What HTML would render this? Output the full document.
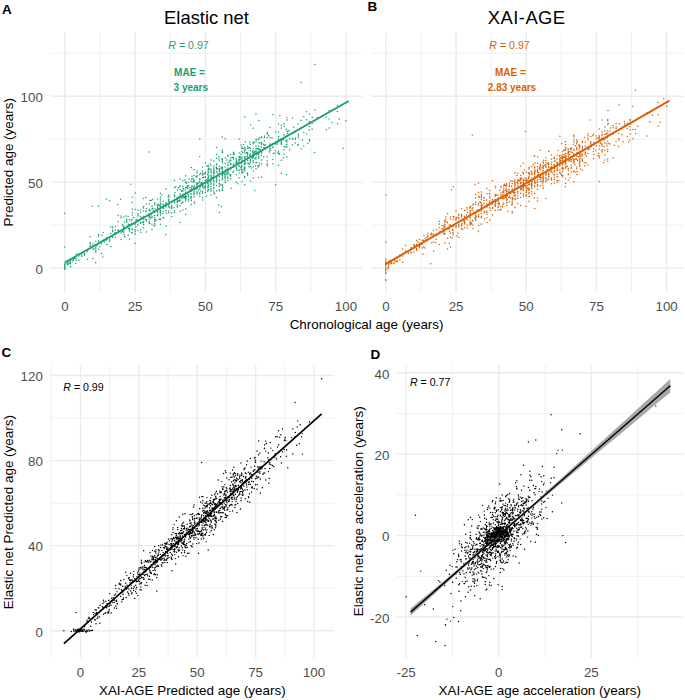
<!DOCTYPE html><html><head><meta charset="utf-8"><style>html,body{margin:0;padding:0;background:#fff;overflow:hidden}svg{display:block}text{font-family:"Liberation Sans", sans-serif}</style></head><body>
<svg width="685" height="700" viewBox="0 0 685 700">
<path d="M99.98 32.2V292.6M170.25 32.2V292.6M240.53 32.2V292.6M310.8 32.2V292.6M50.4 225.07H362.3M50.4 139.15H362.3M50.4 53.23H362.3" stroke="#F0F0F0" stroke-width="1.0" fill="none"/>
<path d="M64.84 32.2V292.6M135.12 32.2V292.6M205.39 32.2V292.6M275.66 32.2V292.6M345.94 32.2V292.6M50.4 268.03H362.3M50.4 182.11H362.3M50.4 96.19H362.3" stroke="#EBEBEB" stroke-width="1.4" fill="none"/>
<path d="M420.93 32.2V292.6M491.13 32.2V292.6M561.33 32.2V292.6M631.53 32.2V292.6M371.1 225.07H683.7M371.1 139.15H683.7M371.1 53.23H683.7" stroke="#F0F0F0" stroke-width="1.0" fill="none"/>
<path d="M385.83 32.2V292.6M456.03 32.2V292.6M526.23 32.2V292.6M596.43 32.2V292.6M666.63 32.2V292.6M371.1 268.03H683.7M371.1 182.11H683.7M371.1 96.19H683.7" stroke="#EBEBEB" stroke-width="1.4" fill="none"/>
<path d="M51.28 365.3V657.7M109.66 365.3V657.7M168.03 365.3V657.7M226.41 365.3V657.7M284.78 365.3V657.7M50.4 588.21H334.3M50.4 503.13H334.3M50.4 418.05H334.3" stroke="#F0F0F0" stroke-width="1.0" fill="none"/>
<path d="M80.47 365.3V657.7M138.84 365.3V657.7M197.22 365.3V657.7M255.59 365.3V657.7M313.97 365.3V657.7M50.4 630.75H334.3M50.4 545.67H334.3M50.4 460.59H334.3M50.4 375.51H334.3" stroke="#EBEBEB" stroke-width="1.4" fill="none"/>
<path d="M452.43 365.3V657.7M545.03 365.3V657.7M637.63 365.3V657.7M396.4 576.32H684M396.4 494.88H684M396.4 413.44H684" stroke="#F0F0F0" stroke-width="1.0" fill="none"/>
<path d="M406.13 365.3V657.7M498.73 365.3V657.7M591.33 365.3V657.7M396.4 617.04H684M396.4 535.6H684M396.4 454.16H684M396.4 372.72H684" stroke="#EBEBEB" stroke-width="1.4" fill="none"/>
<path d="M64.8 265.2h0M64.8 267.3h0M64.8 269.3h0M64.8 264.2h0M64.8 263.7h0M64.8 264.4h0M64.8 269.1h0M64.8 265.4h0M64.8 268.0h0M64.8 266.9h0M64.8 265.6h0M64.8 264.3h0M64.8 267.7h0M64.8 267.2h0M64.8 268.6h0M64.8 266.7h0M64.8 268.2h0M64.8 267.5h0M64.8 265.5h0M64.8 266.7h0M64.8 266.5h0M64.8 266.3h0M81.7 256.2h0M78.9 253.7h0M76.1 258.6h0M81.7 252.7h0M73.3 260.0h0M87.3 259.2h0M90.1 244.0h0M69.9 261.3h0M78.9 253.9h0M73.8 259.0h0M68.7 262.5h0M90.1 236.7h0M78.9 253.9h0M70.4 263.8h0M84.5 253.6h0M73.3 259.5h0M90.1 246.3h0M72.3 261.1h0M67.4 264.4h0M70.5 260.2h0M75.7 263.6h0M78.9 256.0h0M90.5 245.6h0M84.5 254.7h0M76.1 260.2h0M67.0 263.1h0M70.5 266.5h0M93.0 248.9h0M78.9 260.2h0M84.5 255.3h0M68.0 264.5h0M67.4 260.7h0M90.1 242.6h0M81.7 254.9h0M74.7 258.3h0M76.1 254.1h0M68.9 263.3h0M70.5 262.7h0M67.2 263.7h0M87.3 251.6h0M106.1 240.1h0M95.8 247.5h0M112.6 231.6h0M98.6 235.9h0M95.8 241.4h0M109.8 237.7h0M118.2 215.3h0M93.0 243.7h0M115.6 226.4h0M98.6 249.2h0M95.6 262.7h0M93.0 258.4h0M101.4 253.5h0M112.6 227.0h0M107.0 237.6h0M118.2 230.6h0M99.1 242.7h0M101.4 241.6h0M101.4 242.3h0M121.1 215.9h0M118.2 221.7h0M102.5 241.2h0M105.2 239.3h0M101.4 243.9h0M112.6 236.0h0M93.0 245.7h0M95.8 245.1h0M104.2 242.1h0M99.8 246.7h0M115.4 237.5h0M112.6 237.2h0M107.0 244.4h0M112.6 229.9h0M112.6 227.5h0M114.9 232.4h0M119.0 231.2h0M95.8 248.9h0M110.6 227.0h0M95.8 247.3h0M104.2 240.4h0M115.4 234.4h0M118.1 232.4h0M115.4 230.0h0M93.0 246.5h0M103.1 232.5h0M98.6 234.6h0M121.1 232.8h0M97.0 245.4h0M98.6 243.6h0M103.0 240.3h0M95.8 244.5h0M118.2 229.9h0M109.8 241.3h0M98.6 240.7h0M107.0 239.7h0M95.8 250.8h0M109.8 241.1h0M98.6 242.6h0M94.0 249.1h0M95.8 252.3h0M109.8 239.7h0M110.9 233.5h0M102.1 235.2h0M111.0 246.5h0M102.8 256.9h0M124.7 236.3h0M129.5 229.7h0M132.2 229.8h0M146.4 221.1h0M124.3 222.0h0M123.9 225.9h0M137.9 224.2h0M149.2 223.6h0M146.4 203.9h0M140.7 209.9h0M122.9 229.5h0M143.7 224.8h0M140.7 223.2h0M123.9 227.0h0M135.1 222.4h0M122.4 224.7h0M143.5 227.7h0M140.7 222.5h0M143.5 208.1h0M142.4 222.6h0M128.6 228.4h0M143.5 218.1h0M128.1 216.6h0M123.9 228.1h0M132.0 219.5h0M135.1 223.1h0M129.5 219.5h0M137.9 213.6h0M137.9 210.0h0M126.7 222.2h0M137.9 230.4h0M131.1 221.0h0M141.7 217.7h0M129.5 228.5h0M143.5 222.3h0M132.3 212.6h0M137.9 216.0h0M140.7 232.3h0M135.1 209.5h0M128.3 224.2h0M149.2 221.8h0M123.9 234.6h0M129.5 229.5h0M135.1 229.5h0M121.1 217.7h0M126.7 219.2h0M143.5 216.3h0M143.5 211.0h0M137.9 220.9h0M146.4 208.7h0M143.5 198.5h0M129.5 238.9h0M137.9 221.4h0M129.5 231.0h0M140.7 229.7h0M131.9 223.6h0M126.7 225.9h0M145.7 211.6h0M140.7 219.0h0M140.7 219.1h0M137.9 213.8h0M143.5 206.5h0M132.3 232.9h0M137.0 219.5h0M123.9 217.0h0M137.9 224.5h0M143.5 218.9h0M140.7 212.3h0M143.5 224.3h0M135.0 222.5h0M145.8 197.5h0M124.1 227.7h0M146.4 231.9h0M131.5 232.6h0M123.6 232.3h0M137.9 224.9h0M135.1 233.9h0M132.3 215.1h0M146.4 219.8h0M124.9 236.7h0M137.9 215.3h0M132.3 229.1h0M135.9 226.7h0M135.1 224.5h0M123.9 228.0h0M135.1 231.7h0M146.4 211.3h0M125.9 216.0h0M121.1 239.6h0M123.0 229.3h0M135.1 231.3h0M148.5 215.3h0M122.3 231.4h0M149.2 216.1h0M136.1 220.2h0M123.9 231.0h0M132.3 223.9h0M126.7 220.7h0M140.7 223.0h0M135.1 243.2h0M129.5 224.7h0M128.2 235.2h0M145.4 219.5h0M143.5 221.6h0M133.3 217.6h0M132.3 208.9h0M140.7 216.5h0M149.2 217.3h0M123.3 226.0h0M126.7 221.2h0M160.4 206.8h0M163.4 204.7h0M152.0 216.4h0M150.7 218.3h0M154.8 204.1h0M160.4 207.8h0M168.8 211.0h0M166.3 213.0h0M149.2 223.1h0M149.2 221.8h0M163.2 217.4h0M174.5 199.7h0M174.5 194.9h0M160.4 215.1h0M174.1 200.7h0M174.5 199.8h0M160.6 210.5h0M168.8 206.7h0M159.4 205.6h0M153.5 210.3h0M166.0 203.1h0M152.0 224.2h0M168.8 206.6h0M171.7 205.6h0M174.5 196.6h0M161.8 194.7h0M152.5 199.6h0M174.5 202.7h0M174.5 180.4h0M177.3 198.8h0M165.9 204.3h0M168.8 200.8h0M160.4 224.2h0M154.8 225.2h0M157.6 207.5h0M169.4 207.8h0M157.6 214.7h0M168.8 200.0h0M163.3 201.2h0M160.4 199.1h0M177.3 197.5h0M154.8 204.9h0M162.9 213.6h0M154.8 203.0h0M174.5 210.9h0M163.2 211.6h0M158.5 204.4h0M153.9 225.9h0M166.0 226.1h0M160.4 203.3h0M152.0 206.0h0M150.1 210.4h0M160.2 210.1h0M166.0 204.6h0M163.8 207.9h0M174.5 196.4h0M174.5 196.5h0M174.5 212.6h0M171.6 213.1h0M163.2 208.2h0M163.2 204.4h0M160.4 193.2h0M160.4 212.0h0M149.2 215.0h0M171.7 208.8h0M154.8 217.5h0M149.2 210.4h0M163.2 204.2h0M168.8 196.5h0M160.4 211.2h0M160.4 205.9h0M168.8 200.3h0M154.8 221.1h0M149.2 213.6h0M165.8 234.6h0M163.2 206.5h0M174.5 202.0h0M160.4 210.6h0M171.7 206.6h0M149.7 223.4h0M149.9 200.5h0M166.0 205.9h0M154.8 221.6h0M151.1 215.1h0M152.0 217.2h0M160.4 201.1h0M157.6 204.6h0M166.0 210.4h0M174.1 207.7h0M160.4 199.0h0M154.8 219.6h0M166.0 206.8h0M149.2 223.4h0M160.4 206.8h0M157.6 199.1h0M160.4 219.5h0M152.0 206.2h0M166.0 189.1h0M166.0 204.9h0M168.8 195.0h0M177.3 201.0h0M159.1 219.0h0M168.8 206.0h0M160.4 219.0h0M155.2 208.7h0M174.5 187.6h0M168.8 201.4h0M175.7 186.8h0M171.7 207.3h0M175.0 192.7h0M152.8 208.2h0M149.2 219.7h0M154.8 219.3h0M160.8 204.3h0M168.8 197.1h0M160.4 218.9h0M163.6 218.1h0M171.7 206.4h0M151.2 200.6h0M168.8 212.7h0M149.2 204.0h0M154.8 212.3h0M168.8 199.2h0M168.4 196.7h0M160.4 218.9h0M157.6 205.4h0M171.7 207.7h0M157.6 215.2h0M149.2 216.8h0M156.1 219.9h0M149.2 209.5h0M171.7 216.6h0M152.0 209.0h0M177.3 199.9h0M154.8 215.4h0M157.6 206.1h0M166.0 202.6h0M157.8 212.7h0M160.4 197.1h0M152.0 229.6h0M160.1 211.3h0M149.9 217.3h0M154.8 223.7h0M174.7 196.5h0M157.6 215.8h0M157.6 208.9h0M168.8 204.5h0M174.5 180.4h0M157.6 211.6h0M160.4 213.3h0M197.0 175.8h0M199.5 179.0h0M194.1 180.4h0M182.9 188.4h0M182.9 194.8h0M199.8 185.6h0M197.0 183.7h0M202.6 183.3h0M199.8 186.9h0M189.1 178.9h0M180.1 199.1h0M202.6 186.7h0M197.0 188.5h0M194.1 188.9h0M197.0 194.1h0M188.5 200.9h0M185.7 192.6h0M194.1 201.8h0M190.9 191.6h0M197.0 170.9h0M203.6 177.2h0M199.8 193.0h0M188.5 196.8h0M187.8 188.4h0M202.6 184.5h0M188.5 185.8h0M199.8 174.8h0M179.9 186.0h0M191.3 196.5h0M191.8 186.2h0M200.0 178.9h0M202.6 173.0h0M181.6 198.0h0M194.6 203.5h0M194.1 187.5h0M181.5 203.5h0M200.7 191.1h0M192.8 178.4h0M205.4 182.8h0M182.9 202.1h0M192.0 176.3h0M185.7 188.1h0M194.1 193.6h0M194.1 186.1h0M191.3 204.4h0M186.4 183.2h0M191.3 179.1h0M188.5 191.9h0M202.3 171.3h0M191.3 197.7h0M191.3 188.1h0M185.7 192.2h0M185.7 187.7h0M204.1 187.2h0M185.7 199.6h0M202.6 200.0h0M194.1 194.4h0M205.4 192.6h0M181.9 190.4h0M202.6 185.1h0M199.8 193.7h0M193.2 189.0h0M197.0 191.8h0M197.0 183.2h0M188.5 191.6h0M194.1 191.3h0M182.9 186.2h0M177.3 199.2h0M197.0 182.5h0M191.3 200.6h0M202.6 197.6h0M184.7 196.8h0M200.3 186.8h0M205.0 180.5h0M202.6 183.6h0M205.4 180.4h0M182.9 197.7h0M181.9 203.0h0M183.7 196.3h0M188.5 195.0h0M180.1 205.8h0M181.5 191.3h0M177.3 202.4h0M202.6 175.3h0M187.4 187.0h0M194.1 186.1h0M190.1 198.1h0M198.2 183.4h0M199.8 182.6h0M188.0 194.2h0M191.3 193.9h0M180.1 222.6h0M185.3 189.9h0M183.5 189.1h0M186.0 198.6h0M185.7 175.8h0M193.4 187.7h0M185.7 198.3h0M186.5 196.6h0M200.6 173.4h0M177.3 201.5h0M177.4 190.0h0M178.9 196.7h0M201.6 182.8h0M194.1 175.5h0M197.0 176.9h0M204.2 188.1h0M182.9 197.7h0M202.6 193.1h0M182.9 194.2h0M191.3 181.3h0M196.4 187.0h0M199.8 182.5h0M184.3 197.5h0M191.3 167.6h0M178.6 200.9h0M185.7 214.2h0M205.4 173.1h0M202.6 177.8h0M193.6 179.8h0M199.8 186.5h0M202.6 184.9h0M185.7 195.7h0M205.4 186.0h0M188.5 182.3h0M182.9 191.1h0M192.2 186.2h0M194.1 192.8h0M197.0 185.9h0M196.1 189.2h0M178.4 187.7h0M194.1 180.7h0M202.6 191.8h0M196.1 176.5h0M205.4 187.5h0M191.3 188.9h0M199.8 196.2h0M180.1 186.7h0M202.6 191.4h0M189.5 187.7h0M202.6 185.8h0M186.3 187.5h0M194.1 185.6h0M201.1 183.4h0M197.0 172.7h0M194.1 194.1h0M205.4 183.0h0M180.1 200.6h0M180.1 211.1h0M194.1 193.7h0M204.1 173.8h0M197.0 187.7h0M185.7 198.8h0M180.1 200.9h0M189.9 190.1h0M190.8 193.7h0M191.3 200.0h0M194.1 196.9h0M185.7 197.6h0M202.0 182.2h0M185.4 196.0h0M180.1 189.4h0M185.7 200.9h0M202.6 174.5h0M182.9 194.6h0M185.7 208.9h0M202.6 174.4h0M187.1 185.7h0M199.8 189.1h0M177.3 206.9h0M202.6 167.1h0M182.9 180.5h0M182.9 210.0h0M197.0 182.7h0M205.1 182.4h0M205.4 176.8h0M198.4 190.1h0M203.0 186.0h0M205.4 189.9h0M194.1 182.2h0M180.1 179.1h0M199.8 156.5h0M188.4 185.7h0M185.7 182.2h0M191.3 181.6h0M177.3 205.0h0M177.3 201.2h0M184.7 180.0h0M194.1 169.7h0M197.0 184.4h0M205.4 172.2h0M200.3 185.2h0M202.6 186.5h0M194.1 186.1h0M197.0 192.4h0M194.1 189.0h0M180.1 194.0h0M180.1 195.0h0M199.8 179.7h0M183.0 188.6h0M199.5 181.7h0M191.3 189.3h0M177.3 206.5h0M193.1 181.8h0M188.5 199.2h0M179.4 200.4h0M184.6 197.7h0M185.9 181.8h0M185.7 188.1h0M197.0 187.5h0M210.1 164.0h0M216.6 176.5h0M222.4 161.2h0M230.7 163.2h0M208.2 177.7h0M208.2 182.0h0M210.8 179.6h0M211.0 169.3h0M211.0 165.4h0M207.5 183.1h0M211.0 176.3h0M211.0 178.0h0M219.4 186.6h0M223.6 173.6h0M216.6 175.8h0M211.0 169.3h0M208.2 178.5h0M213.8 172.2h0M210.2 182.0h0M219.4 166.2h0M230.7 176.0h0M225.1 177.7h0M211.0 169.7h0M205.4 177.5h0M208.2 178.7h0M216.6 172.1h0M216.6 164.5h0M225.1 163.6h0M207.7 187.3h0M213.8 193.1h0M225.1 178.7h0M222.3 179.8h0M219.4 176.8h0M230.7 167.6h0M208.2 187.7h0M211.0 175.0h0M221.3 168.3h0M222.3 174.3h0M232.9 172.2h0M233.5 153.9h0M222.3 184.5h0M226.7 160.0h0M225.1 176.6h0M209.1 169.1h0M222.3 168.1h0M213.8 181.1h0M216.6 190.8h0M211.0 175.4h0M205.4 192.6h0M230.7 164.3h0M225.1 138.7h0M227.9 178.3h0M213.5 180.0h0M216.6 180.8h0M211.0 189.9h0M222.3 167.6h0M227.9 162.6h0M227.9 180.5h0M230.7 175.8h0M213.8 172.9h0M225.1 177.2h0M208.2 177.4h0M219.4 160.9h0M208.2 185.6h0M219.4 173.9h0M219.4 212.5h0M213.8 182.0h0M213.8 171.9h0M225.4 171.6h0M219.4 160.9h0M216.6 176.6h0M208.2 165.4h0M213.8 160.9h0M227.9 165.0h0M233.5 163.8h0M216.6 167.2h0M230.7 164.8h0M230.7 179.0h0M211.0 160.1h0M213.8 183.9h0M225.1 175.0h0M214.0 173.7h0M232.2 157.3h0M216.6 158.2h0M225.1 174.0h0M225.3 182.6h0M211.0 188.4h0M229.7 174.4h0M214.6 193.7h0M208.2 177.2h0M206.8 166.1h0M219.4 190.7h0M222.3 137.0h0M213.8 167.9h0M227.9 155.3h0M213.8 169.6h0M227.9 170.3h0M206.3 196.2h0M213.8 188.6h0M211.0 181.1h0M216.6 168.9h0M216.6 169.3h0M216.6 167.9h0M229.3 161.6h0M222.3 163.0h0M222.4 172.1h0M216.6 171.6h0M228.1 171.5h0M219.5 169.8h0M225.1 169.9h0M231.1 188.2h0M222.3 171.1h0M217.6 173.7h0M213.8 185.2h0M230.7 158.1h0M226.9 174.8h0M227.9 156.2h0M211.0 175.0h0M217.7 168.7h0M230.7 175.1h0M211.0 171.1h0M227.9 165.3h0M219.4 168.7h0M211.0 191.1h0M216.6 168.1h0M207.5 180.4h0M225.1 176.6h0M225.1 158.1h0M205.4 173.8h0M213.8 180.4h0M227.9 164.6h0M211.0 175.9h0M219.4 183.9h0M228.0 172.9h0M222.3 167.5h0M208.2 177.6h0M230.9 160.2h0M226.4 172.8h0M221.3 206.4h0M213.8 177.4h0M221.8 159.1h0M216.6 178.5h0M208.7 176.8h0M208.2 177.1h0M206.7 179.5h0M211.0 172.1h0M212.3 177.6h0M222.3 167.4h0M222.3 158.9h0M222.3 170.7h0M227.9 165.1h0M208.2 169.3h0M216.6 164.0h0M207.6 191.3h0M216.6 185.6h0M208.2 179.1h0M208.2 185.1h0M208.2 172.7h0M216.3 167.5h0M226.8 169.2h0M213.8 166.0h0M225.1 166.9h0M211.0 184.2h0M213.5 172.9h0M218.6 205.0h0M208.2 166.5h0M216.6 177.4h0M222.3 175.2h0M227.9 173.8h0M208.2 190.2h0M227.9 176.9h0M222.3 151.3h0M222.3 150.1h0M208.2 183.9h0M230.1 160.2h0M213.8 187.6h0M219.4 183.3h0M219.4 180.3h0M230.7 169.1h0M222.3 178.1h0M233.5 153.1h0M211.0 172.4h0M225.1 174.2h0M222.3 159.7h0M219.4 190.0h0M222.3 167.3h0M222.3 189.3h0M213.8 185.0h0M222.3 168.0h0M208.2 185.0h0M218.9 158.8h0M219.4 172.1h0M211.4 177.8h0M222.3 176.0h0M225.1 177.5h0M208.9 168.3h0M213.8 177.4h0M208.2 189.5h0M222.3 160.7h0M207.7 174.5h0M211.0 183.4h0M216.6 179.4h0M219.4 170.7h0M205.4 162.9h0M230.7 154.6h0M211.0 175.2h0M222.3 152.4h0M211.0 186.6h0M222.1 168.0h0M216.6 147.5h0M214.3 172.0h0M218.7 156.4h0M222.3 168.9h0M222.2 190.7h0M224.7 174.0h0M213.8 190.9h0M208.2 172.0h0M213.8 172.6h0M213.8 176.3h0M222.3 179.4h0M216.6 154.5h0M213.8 170.5h0M208.2 170.7h0M222.3 185.8h0M208.2 186.8h0M219.4 180.6h0M225.1 171.4h0M222.9 187.5h0M211.0 195.0h0M216.6 171.5h0M230.7 168.9h0M208.2 175.2h0M225.1 175.2h0M216.6 182.0h0M222.3 171.9h0M216.5 164.7h0M208.2 184.1h0M221.2 167.6h0M205.4 183.4h0M230.7 164.0h0M227.9 168.1h0M216.6 167.5h0M220.5 185.1h0M219.4 173.9h0M233.5 157.8h0M205.4 185.3h0M213.8 175.7h0M216.6 197.6h0M227.9 172.3h0M225.1 181.1h0M244.7 150.8h0M233.5 153.7h0M250.4 181.1h0M244.7 177.4h0M236.8 168.7h0M250.4 154.0h0M244.7 148.3h0M241.9 157.4h0M241.1 154.2h0M247.6 157.2h0M239.1 139.1h0M244.7 168.3h0M260.0 137.5h0M247.6 152.4h0M241.9 158.9h0M247.6 152.4h0M259.3 165.3h0M258.8 148.9h0M253.2 162.4h0M258.8 146.1h0M254.8 158.6h0M253.2 153.9h0M244.7 168.9h0M236.3 159.1h0M254.1 152.7h0M250.4 144.2h0M261.6 137.1h0M241.9 171.8h0M258.1 165.7h0M239.1 160.4h0M260.1 149.5h0M261.5 155.5h0M233.5 166.4h0M241.9 147.5h0M261.6 151.5h0M261.6 142.6h0M252.4 157.3h0M236.3 162.9h0M233.7 166.9h0M239.1 170.5h0M258.8 152.0h0M256.0 159.1h0M245.5 163.6h0M256.0 150.1h0M258.8 120.4h0M241.9 172.9h0M258.1 167.1h0M241.1 167.6h0M242.7 152.8h0M233.5 157.6h0M238.0 183.7h0M250.4 162.5h0M233.5 152.3h0M248.8 166.7h0M239.1 162.2h0M253.2 142.2h0M236.3 167.9h0M239.1 162.6h0M241.1 169.1h0M249.9 154.2h0M256.2 154.6h0M254.7 151.8h0M253.2 162.0h0M252.7 155.2h0M248.8 163.5h0M241.9 148.6h0M239.1 172.9h0M258.8 138.7h0M244.7 153.0h0M251.8 158.0h0M236.3 167.1h0M243.6 169.3h0M236.3 174.8h0M244.7 156.7h0M253.2 143.7h0M243.1 148.8h0M253.2 150.7h0M236.3 182.0h0M244.7 176.5h0M244.7 184.7h0M247.8 163.0h0M239.1 157.2h0M253.1 166.7h0M258.8 146.3h0M256.0 152.9h0M234.4 154.2h0M247.2 172.9h0M243.2 172.3h0M250.4 159.6h0M236.3 164.1h0M253.2 148.3h0M245.2 149.7h0M258.8 158.2h0M233.5 167.0h0M244.7 151.2h0M247.6 158.4h0M256.9 154.4h0M256.0 148.5h0M239.1 163.5h0M241.9 169.7h0M254.2 142.5h0M245.3 141.7h0M241.9 157.4h0M258.8 151.8h0M256.0 157.2h0M244.7 169.0h0M248.9 147.7h0M258.8 153.8h0M239.1 166.4h0M259.1 163.1h0M258.8 156.7h0M253.2 160.5h0M253.2 153.8h0M253.2 154.6h0M247.6 146.5h0M250.4 160.9h0M239.0 165.8h0M250.4 150.7h0M253.2 178.1h0M247.1 155.9h0M253.2 171.0h0M246.4 152.8h0M256.0 162.9h0M253.2 156.6h0M236.3 164.4h0M256.0 153.9h0M241.9 170.8h0M236.3 163.4h0M236.9 170.6h0M241.9 163.6h0M247.6 148.6h0M241.9 160.5h0M239.1 162.0h0M256.0 168.7h0M244.7 147.2h0M258.8 157.7h0M239.1 177.8h0M252.9 157.9h0M243.5 144.6h0M257.4 148.4h0M250.4 160.2h0M252.6 151.6h0M236.1 162.4h0M256.0 151.4h0M244.7 177.4h0M253.2 157.6h0M256.0 141.5h0M236.9 161.3h0M233.5 165.5h0M254.8 190.6h0M261.6 144.6h0M258.8 148.4h0M244.7 167.1h0M256.0 151.8h0M233.5 171.3h0M236.3 164.5h0M250.4 148.1h0M247.6 160.2h0M256.7 139.4h0M240.1 156.6h0M247.6 174.0h0M261.3 146.9h0M241.9 166.7h0M244.7 163.6h0M250.6 124.9h0M261.6 177.0h0M238.6 159.9h0M252.9 152.5h0M244.7 161.2h0M244.8 170.8h0M241.9 147.1h0M247.6 154.4h0M249.7 142.0h0M244.7 167.6h0M247.6 152.5h0M251.4 168.1h0M258.8 139.8h0M249.3 147.6h0M244.3 164.4h0M261.6 163.7h0M239.1 156.5h0M233.5 158.9h0M258.8 149.6h0M241.0 144.9h0M239.1 153.0h0M244.3 164.6h0M241.9 151.2h0M244.7 162.1h0M258.8 143.1h0M241.7 165.8h0M237.2 162.8h0M239.1 166.3h0M258.8 154.9h0M245.6 157.0h0M244.7 158.6h0M256.0 162.8h0M259.8 142.8h0M247.6 175.3h0M256.4 162.5h0M240.9 167.1h0M244.7 116.9h0M249.7 155.9h0M239.1 169.9h0M241.9 156.9h0M239.1 159.5h0M240.9 163.0h0M256.0 139.6h0M256.0 113.7h0M236.3 164.3h0M241.9 181.7h0M253.8 155.6h0M258.8 177.5h0M249.2 164.6h0M253.2 128.3h0M240.2 158.2h0M255.5 165.7h0M256.0 146.3h0M244.9 148.3h0M240.1 159.3h0M233.5 164.6h0M250.4 156.1h0M250.4 166.5h0M233.5 164.3h0M247.6 153.5h0M259.9 151.7h0M233.5 153.8h0M236.3 161.1h0M236.3 158.5h0M244.7 156.7h0M244.3 167.5h0M286.1 129.2h0M263.5 144.2h0M267.2 163.8h0M288.0 131.8h0M261.6 143.3h0M270.0 148.3h0M272.9 114.6h0M261.6 160.1h0M270.0 150.4h0M278.5 132.0h0M278.5 141.3h0M278.5 140.1h0M281.3 140.7h0M278.9 153.3h0M261.6 151.1h0M281.3 142.9h0M278.0 152.8h0M267.2 165.7h0M272.9 143.6h0M267.2 133.0h0M286.9 136.0h0M269.4 152.1h0M267.2 134.6h0M284.1 126.2h0M284.1 134.8h0M286.9 120.0h0M280.7 139.3h0M272.9 147.4h0M275.0 152.9h0M277.2 143.9h0M278.5 136.5h0M286.9 140.1h0M270.0 137.6h0M283.2 139.7h0M261.6 153.1h0M267.2 157.0h0M286.9 142.1h0M268.7 135.7h0M276.0 143.9h0M286.9 117.8h0M281.3 173.2h0M275.3 150.7h0M281.3 125.2h0M289.1 130.6h0M286.9 157.0h0M267.2 164.7h0M264.4 145.3h0M270.0 150.1h0M264.4 137.2h0M283.1 138.8h0M284.1 154.4h0M264.4 147.7h0M263.7 157.0h0M270.0 127.2h0M281.3 128.1h0M283.3 157.8h0M275.7 132.0h0M278.5 165.2h0M287.4 133.4h0M286.9 146.9h0M264.4 137.5h0M281.3 140.2h0M284.1 135.1h0M286.9 144.2h0M273.4 153.6h0M267.2 132.4h0M275.7 132.1h0M272.0 137.9h0M272.7 147.0h0M284.1 146.8h0M279.9 115.5h0M281.3 142.6h0M281.3 141.9h0M265.6 145.1h0M264.4 135.9h0M272.9 163.7h0M285.5 146.7h0M278.5 123.9h0M284.1 149.7h0M278.5 136.5h0M284.1 123.7h0M289.6 149.8h0M281.7 140.4h0M286.9 131.1h0M289.7 138.8h0M281.3 143.6h0M284.1 138.1h0M263.8 147.4h0M261.6 152.6h0M286.9 141.7h0M267.2 161.0h0M270.2 143.9h0M265.4 148.6h0M279.4 154.3h0M261.6 143.4h0M284.1 124.0h0M270.0 149.6h0M281.3 140.0h0M287.2 135.5h0M281.3 160.3h0M272.9 159.4h0M278.5 138.9h0M285.7 140.5h0M281.3 144.3h0M270.0 145.4h0M261.6 137.5h0M286.3 174.4h0M278.5 153.4h0M264.4 137.4h0M277.1 142.6h0M278.5 151.2h0M270.0 144.5h0M286.5 144.7h0M267.2 137.8h0M264.4 141.0h0M298.4 137.5h0M298.2 135.8h0M314.6 152.6h0M309.4 141.0h0M292.5 138.4h0M301.0 120.6h0M292.6 139.2h0M309.4 114.1h0M315.0 109.9h0M292.5 117.9h0M303.8 116.7h0M295.3 143.1h0M298.2 123.9h0M309.4 139.5h0M317.2 117.8h0M298.2 144.6h0M303.8 145.9h0M298.4 134.1h0M292.5 144.8h0M306.6 119.7h0M295.3 131.8h0M309.1 130.0h0M309.4 126.6h0M293.7 127.3h0M306.6 111.8h0M295.3 139.2h0M312.2 117.2h0M297.8 145.6h0M309.1 123.0h0M307.9 143.4h0M306.6 134.0h0M295.3 138.0h0M312.2 123.3h0M301.0 148.7h0M312.2 129.2h0M303.8 132.6h0M302.3 140.0h0M309.4 121.4h0M326.3 117.1h0M339.3 118.9h0M329.1 119.1h0M337.5 105.8h0M337.4 111.5h0M343.1 148.3h0M329.3 128.1h0M326.3 129.7h0M345.9 120.7h0M331.9 122.5h0M329.1 110.5h0M337.5 123.7h0M315.0 64.4h0M301.0 82.4h0M64.8 213.2h0M64.8 247.1h0M149.2 152.0h0M92.4 206.3h0M98.6 206.3h0M106.4 199.0h0M109.5 200.7h0M117.7 204.4h0M120.5 199.3h0M130.9 184.3h0M135.1 193.1h0M132.3 197.2h0M132.3 202.4h0M275.7 184.7h0M199.8 139.1h0" stroke="#1B9E77" stroke-width="1.5" stroke-linecap="round" fill="none" opacity="1.0"/>
<path d="M385.8 263.5h0M385.8 270.5h0M385.8 272.6h0M385.8 262.6h0M385.8 263.9h0M385.8 273.8h0M385.8 262.9h0M385.8 270.6h0M385.8 260.9h0M385.8 265.3h0M385.8 270.1h0M385.8 268.5h0M385.8 268.2h0M385.8 280.2h0M385.8 264.5h0M385.8 268.8h0M385.8 264.2h0M385.8 279.7h0M385.8 264.4h0M385.8 267.3h0M385.8 272.3h0M385.8 258.9h0M402.7 256.1h0M399.9 255.2h0M397.1 260.7h0M402.7 249.1h0M394.3 262.9h0M408.3 253.1h0M411.1 251.9h0M390.9 263.6h0M399.9 256.7h0M394.8 259.0h0M389.7 262.5h0M411.1 253.1h0M399.9 254.9h0M391.4 261.5h0M405.5 245.6h0M394.3 260.5h0M411.1 247.6h0M393.2 263.0h0M388.4 266.2h0M391.4 263.5h0M396.6 257.6h0M399.9 260.0h0M411.4 248.2h0M405.5 250.9h0M397.1 258.0h0M388.0 268.5h0M391.4 261.6h0M413.9 247.9h0M399.9 254.9h0M405.5 251.3h0M389.0 264.1h0M388.4 267.0h0M411.1 248.4h0M402.7 262.2h0M395.7 261.2h0M397.1 261.9h0M389.9 260.6h0M391.4 262.9h0M388.2 264.3h0M408.3 253.6h0M427.0 237.6h0M416.7 245.4h0M433.6 230.4h0M419.5 239.6h0M416.7 245.3h0M430.8 237.2h0M439.2 232.8h0M413.9 248.2h0M436.5 233.8h0M419.5 245.0h0M416.5 245.8h0M413.9 246.1h0M422.3 248.1h0M433.6 234.4h0M427.9 236.5h0M439.2 224.1h0M420.0 244.8h0M422.3 242.5h0M422.3 243.7h0M442.0 228.9h0M439.2 221.6h0M423.5 240.3h0M426.2 239.8h0M422.3 240.3h0M433.6 233.9h0M413.9 252.1h0M416.7 244.6h0M425.1 238.3h0M420.8 244.5h0M436.4 229.6h0M433.6 251.0h0M427.9 235.5h0M433.6 242.0h0M433.6 230.6h0M435.8 242.5h0M440.0 231.4h0M416.7 240.6h0M431.5 233.3h0M416.7 248.3h0M425.1 248.0h0M436.4 239.4h0M439.0 227.5h0M436.4 235.4h0M413.9 244.6h0M424.0 241.1h0M419.5 243.3h0M442.0 232.0h0M418.0 241.9h0M419.5 246.2h0M423.9 235.4h0M416.7 250.3h0M439.2 244.5h0M430.8 234.5h0M419.5 247.1h0M427.9 233.4h0M416.7 249.2h0M430.8 263.7h0M419.5 247.7h0M415.0 245.5h0M416.7 250.1h0M430.8 234.4h0M431.8 243.0h0M423.0 254.3h0M432.0 235.0h0M423.8 247.0h0M445.7 219.3h0M450.4 233.0h0M453.1 233.2h0M467.3 212.4h0M445.2 221.1h0M444.8 224.8h0M458.8 218.8h0M470.1 217.5h0M467.3 219.4h0M461.7 223.4h0M443.9 229.6h0M464.6 223.8h0M461.6 225.9h0M444.8 220.8h0M456.0 223.4h0M443.4 233.8h0M464.5 218.7h0M461.6 228.4h0M464.5 218.3h0M463.3 221.1h0M449.5 231.3h0M464.5 222.9h0M449.0 229.0h0M444.8 224.3h0M453.0 235.1h0M456.0 225.2h0M450.4 217.1h0M458.8 214.5h0M458.8 214.8h0M447.6 213.5h0M458.8 225.2h0M452.0 238.0h0M462.6 229.5h0M450.4 237.3h0M464.5 220.7h0M453.2 226.8h0M458.8 224.2h0M461.6 217.1h0M456.0 226.0h0M449.2 243.2h0M470.1 222.6h0M444.8 243.0h0M450.4 217.1h0M456.0 219.9h0M442.0 225.5h0M447.6 238.2h0M464.5 224.0h0M464.5 219.1h0M458.8 226.7h0M467.3 227.9h0M464.5 210.4h0M450.4 225.0h0M458.8 217.6h0M450.4 218.9h0M461.6 215.0h0M452.8 232.6h0M447.6 222.8h0M466.6 214.9h0M461.6 215.8h0M461.6 214.6h0M458.8 222.2h0M464.5 216.4h0M453.2 230.4h0M457.9 233.2h0M444.8 234.0h0M458.8 237.3h0M464.5 227.6h0M461.6 224.8h0M464.5 222.3h0M455.9 218.3h0M466.7 207.7h0M445.0 226.7h0M467.3 225.0h0M452.4 229.6h0M444.5 227.8h0M458.8 215.3h0M456.0 211.1h0M453.2 226.2h0M467.3 219.5h0M445.9 216.9h0M458.8 225.3h0M453.2 226.1h0M456.8 235.8h0M456.0 225.3h0M444.8 222.1h0M456.0 227.3h0M467.3 209.8h0M446.8 221.9h0M442.0 225.6h0M443.9 225.7h0M456.0 219.6h0M469.4 208.1h0M443.2 228.1h0M470.1 221.1h0M457.0 217.3h0M444.8 233.5h0M453.2 218.9h0M447.6 249.0h0M461.6 208.6h0M456.0 218.8h0M450.4 246.9h0M449.2 225.1h0M466.3 219.0h0M464.5 221.2h0M454.2 216.8h0M453.2 216.5h0M461.6 228.7h0M470.1 218.0h0M444.2 232.1h0M447.6 228.8h0M481.3 205.5h0M484.3 212.8h0M472.9 205.1h0M471.6 223.0h0M475.7 219.5h0M481.3 207.4h0M489.7 208.0h0M487.2 222.5h0M470.1 213.6h0M470.1 215.7h0M484.1 207.4h0M495.3 210.6h0M495.3 201.4h0M481.3 217.7h0M495.0 205.2h0M495.3 204.5h0M481.5 196.3h0M489.7 202.0h0M480.3 202.4h0M474.4 212.8h0M486.9 204.0h0M472.9 228.6h0M489.7 193.4h0M492.5 207.4h0M495.3 206.2h0M482.7 205.2h0M473.4 203.8h0M495.3 186.3h0M495.3 204.7h0M498.1 200.1h0M486.7 200.0h0M489.7 196.2h0M481.3 206.1h0M475.7 212.7h0M478.5 217.2h0M490.3 210.2h0M478.5 231.0h0M489.7 203.6h0M484.2 206.7h0M481.3 210.6h0M498.1 205.9h0M475.7 216.6h0M483.7 197.8h0M475.7 215.1h0M495.3 202.7h0M484.1 207.5h0M479.4 197.3h0M474.8 217.9h0M486.9 214.2h0M481.3 216.6h0M472.9 221.0h0M471.0 224.3h0M481.1 223.9h0M486.9 205.7h0M484.6 219.0h0M495.3 195.3h0M495.3 203.0h0M495.3 194.4h0M492.5 199.5h0M484.1 203.7h0M484.1 197.9h0M481.3 204.9h0M481.3 197.5h0M470.1 223.4h0M492.5 201.4h0M475.7 202.0h0M470.1 212.0h0M484.1 200.5h0M489.7 202.6h0M481.3 192.1h0M481.3 216.5h0M489.7 205.0h0M475.7 204.3h0M470.1 210.9h0M486.7 211.2h0M484.1 211.0h0M495.3 199.4h0M481.3 206.9h0M492.5 214.7h0M470.6 210.8h0M470.8 206.6h0M486.9 217.8h0M475.7 197.7h0M472.0 208.8h0M472.9 224.9h0M481.3 206.7h0M478.5 203.6h0M486.9 212.6h0M495.0 199.8h0M481.3 224.2h0M475.7 220.2h0M486.9 207.2h0M470.1 207.5h0M481.3 213.4h0M478.5 182.9h0M481.3 208.8h0M472.9 207.7h0M486.9 193.7h0M486.9 205.2h0M489.7 201.9h0M498.1 201.8h0M480.0 202.0h0M489.7 190.6h0M481.3 205.1h0M476.1 216.6h0M495.3 196.3h0M489.7 193.8h0M496.5 195.1h0M492.5 208.3h0M495.8 188.1h0M473.7 212.7h0M470.1 211.6h0M475.7 213.1h0M481.6 209.3h0M489.7 207.8h0M481.3 199.4h0M484.5 212.3h0M492.5 200.4h0M472.1 214.3h0M489.7 201.0h0M470.1 215.0h0M475.7 218.0h0M489.7 198.0h0M489.3 193.5h0M481.3 194.8h0M478.5 216.5h0M492.5 204.0h0M478.5 211.5h0M470.1 224.7h0M477.0 210.1h0M470.1 217.9h0M492.5 180.8h0M472.9 210.6h0M498.1 198.7h0M475.7 194.4h0M478.5 205.2h0M486.9 188.6h0M478.7 225.5h0M481.3 203.0h0M472.9 220.2h0M481.0 209.2h0M470.8 206.4h0M475.7 215.8h0M495.6 201.4h0M478.5 196.4h0M478.5 215.1h0M489.7 220.0h0M495.3 202.9h0M478.5 192.5h0M481.3 210.9h0M517.8 203.4h0M520.4 183.8h0M515.0 196.1h0M503.8 192.7h0M503.8 198.7h0M520.6 175.6h0M517.8 185.4h0M523.4 172.9h0M520.6 180.2h0M510.0 193.5h0M501.0 186.2h0M523.4 189.9h0M517.8 188.7h0M515.0 199.6h0M517.8 187.4h0M509.4 192.5h0M506.6 200.3h0M515.0 192.4h0M511.7 205.0h0M517.8 180.7h0M524.4 169.8h0M520.6 179.4h0M509.4 201.9h0M508.6 189.6h0M523.4 193.9h0M509.4 197.0h0M520.6 182.6h0M500.8 206.5h0M512.2 181.0h0M512.6 192.0h0M520.9 187.4h0M523.4 190.4h0M502.4 198.7h0M515.5 198.4h0M515.0 196.3h0M502.4 206.7h0M521.6 178.1h0M513.7 192.0h0M526.2 181.4h0M503.8 192.0h0M512.9 191.8h0M506.6 197.1h0M515.0 188.0h0M515.0 183.3h0M512.2 190.2h0M507.3 195.4h0M512.2 213.0h0M509.4 185.1h0M523.2 174.1h0M512.2 203.1h0M512.2 204.2h0M506.6 197.0h0M506.6 198.7h0M524.9 180.6h0M506.6 191.3h0M523.4 182.5h0M515.0 180.2h0M526.2 185.7h0M502.8 194.4h0M523.4 188.3h0M520.6 197.4h0M514.1 181.6h0M517.8 191.4h0M517.8 187.7h0M509.4 195.9h0M515.0 185.9h0M503.8 188.2h0M498.1 203.5h0M517.8 193.0h0M512.2 189.8h0M523.4 179.3h0M505.6 190.1h0M521.1 188.5h0M525.8 185.7h0M523.4 182.1h0M526.2 180.6h0M503.8 185.8h0M502.8 204.5h0M504.6 185.2h0M509.4 186.5h0M501.0 195.3h0M502.4 192.1h0M498.1 198.0h0M523.4 162.9h0M508.3 191.7h0M515.0 207.5h0M510.9 193.1h0M519.0 180.0h0M520.6 189.0h0M508.9 197.5h0M512.2 199.6h0M501.0 197.2h0M506.2 197.1h0M504.4 184.3h0M506.8 205.3h0M506.6 189.9h0M514.3 195.4h0M506.6 193.2h0M507.3 199.7h0M521.5 182.6h0M498.1 207.3h0M498.3 198.2h0M499.8 190.2h0M522.5 186.8h0M515.0 184.9h0M517.8 191.6h0M525.0 178.1h0M503.8 190.5h0M523.4 183.4h0M503.8 203.3h0M512.2 183.6h0M517.3 188.5h0M520.6 205.4h0M505.1 197.6h0M512.2 189.1h0M499.4 203.1h0M506.6 198.9h0M526.2 196.0h0M523.4 186.7h0M514.5 192.3h0M520.6 166.0h0M523.4 196.3h0M506.6 191.5h0M526.2 192.5h0M509.4 193.5h0M503.8 191.5h0M513.0 198.5h0M515.0 196.3h0M517.8 182.7h0M517.0 182.2h0M499.3 204.4h0M515.0 188.2h0M523.4 180.2h0M517.0 175.5h0M526.2 178.9h0M512.2 189.7h0M520.6 193.3h0M501.0 193.1h0M523.4 195.9h0M510.4 198.2h0M523.4 185.2h0M507.2 202.4h0M515.0 184.3h0M521.9 189.3h0M517.8 198.4h0M515.0 187.9h0M526.2 194.7h0M501.0 197.2h0M501.0 198.2h0M515.0 194.7h0M525.0 185.9h0M517.8 198.0h0M506.6 183.7h0M501.0 195.2h0M510.7 181.1h0M511.6 186.2h0M512.2 211.4h0M515.0 183.4h0M506.6 184.1h0M522.9 172.2h0M506.2 187.7h0M501.0 209.4h0M506.6 197.0h0M523.4 180.1h0M503.8 198.8h0M506.6 203.0h0M523.4 182.5h0M507.9 211.2h0M520.6 178.6h0M498.1 201.1h0M523.4 186.0h0M503.8 188.8h0M503.8 198.1h0M517.8 183.8h0M525.9 206.3h0M526.2 181.6h0M519.3 181.0h0M523.8 186.1h0M526.2 187.9h0M515.0 182.5h0M501.0 195.1h0M520.6 189.5h0M509.3 183.0h0M506.6 185.1h0M512.2 201.3h0M498.1 194.9h0M498.1 198.1h0M505.6 196.2h0M515.0 185.8h0M517.8 173.3h0M526.2 171.9h0M521.1 178.9h0M523.4 187.9h0M515.0 184.1h0M517.8 180.0h0M515.0 172.7h0M501.0 197.8h0M501.0 187.2h0M520.6 182.4h0M503.8 186.0h0M520.3 178.2h0M512.2 197.6h0M498.1 210.1h0M513.9 193.2h0M509.4 190.1h0M500.2 210.1h0M505.5 185.5h0M506.8 195.5h0M506.6 185.7h0M517.8 195.4h0M530.9 179.7h0M537.5 172.1h0M543.3 170.2h0M551.5 166.6h0M529.0 181.0h0M529.0 177.3h0M531.6 181.9h0M531.8 178.0h0M531.8 185.6h0M528.4 178.7h0M531.8 185.1h0M531.8 183.6h0M540.3 164.4h0M544.4 165.3h0M537.5 175.5h0M531.8 166.5h0M529.0 188.1h0M534.7 187.1h0M531.0 171.1h0M540.3 174.2h0M551.5 164.2h0M545.9 178.0h0M531.8 181.8h0M526.2 190.2h0M529.0 189.3h0M537.5 170.6h0M537.5 189.3h0M545.9 180.5h0M528.6 188.6h0M534.7 178.2h0M545.9 171.7h0M543.1 176.2h0M540.3 166.6h0M551.5 179.1h0M529.0 184.9h0M531.8 187.9h0M542.1 184.1h0M543.1 168.2h0M553.8 164.6h0M554.3 183.1h0M543.1 182.5h0M547.5 163.5h0M545.9 164.5h0M530.0 184.3h0M543.1 161.9h0M534.7 173.4h0M537.5 172.0h0M531.8 180.3h0M526.2 181.8h0M551.5 167.3h0M545.9 177.6h0M548.7 151.2h0M534.3 156.0h0M537.5 163.4h0M531.8 172.3h0M543.1 170.5h0M548.7 178.9h0M548.7 176.2h0M551.5 170.1h0M534.7 170.3h0M545.9 181.8h0M529.0 189.9h0M540.3 169.3h0M529.0 188.3h0M540.3 175.0h0M540.3 165.8h0M534.7 156.1h0M534.7 176.7h0M546.2 174.8h0M540.3 176.8h0M537.5 170.0h0M529.0 182.6h0M534.7 183.0h0M548.7 166.3h0M554.3 171.9h0M537.5 170.7h0M551.5 159.1h0M551.5 183.7h0M531.8 184.8h0M534.7 182.8h0M545.9 175.0h0M534.8 163.0h0M553.1 174.0h0M537.5 175.5h0M545.9 172.0h0M546.1 173.0h0M531.8 183.8h0M550.5 168.0h0M535.5 183.1h0M529.0 169.0h0M527.6 180.5h0M540.3 164.6h0M543.1 163.3h0M534.7 172.3h0M548.7 174.4h0M534.7 180.1h0M548.7 151.6h0M527.2 185.8h0M534.7 168.0h0M531.8 173.2h0M537.5 169.2h0M537.5 186.1h0M537.5 176.3h0M550.1 171.6h0M543.1 172.6h0M543.2 166.4h0M537.5 166.8h0M548.9 173.3h0M540.3 185.8h0M545.9 157.7h0M551.9 172.2h0M543.1 185.9h0M538.4 172.8h0M534.7 180.2h0M551.5 171.9h0M547.7 179.9h0M548.7 174.6h0M531.8 184.5h0M538.5 174.4h0M551.5 180.1h0M531.8 173.0h0M548.7 164.4h0M540.3 177.2h0M531.8 186.4h0M537.5 181.8h0M528.4 173.1h0M545.9 172.6h0M545.9 167.4h0M526.2 187.4h0M534.7 173.0h0M548.7 163.1h0M531.8 174.6h0M540.3 175.1h0M548.9 176.9h0M543.1 177.0h0M529.0 176.2h0M551.8 162.3h0M547.2 169.4h0M542.1 167.7h0M534.7 182.5h0M542.6 167.5h0M537.5 184.8h0M529.6 196.4h0M529.0 176.3h0M527.5 188.6h0M531.8 184.3h0M533.1 164.5h0M543.1 172.4h0M543.1 177.3h0M543.1 177.5h0M548.7 163.7h0M529.0 167.8h0M537.5 198.0h0M528.5 189.9h0M537.5 186.1h0M529.0 177.7h0M529.0 184.1h0M529.0 201.3h0M537.2 175.9h0M547.7 170.0h0M534.7 181.5h0M545.9 160.6h0M531.8 188.5h0M534.3 198.0h0M539.5 168.4h0M529.0 182.3h0M537.5 175.0h0M543.1 172.3h0M548.7 167.4h0M529.0 193.7h0M548.7 173.3h0M543.1 179.3h0M543.1 178.3h0M529.0 172.5h0M550.9 167.5h0M534.7 167.8h0M540.3 179.5h0M540.3 181.5h0M551.5 178.1h0M543.1 170.2h0M554.3 158.4h0M531.8 194.0h0M545.9 174.2h0M543.1 175.3h0M540.3 169.8h0M543.1 180.9h0M543.1 188.2h0M534.7 171.9h0M543.1 188.6h0M529.0 196.7h0M539.7 167.6h0M540.3 176.9h0M532.2 181.5h0M543.1 173.6h0M545.9 178.8h0M529.7 174.5h0M534.7 174.7h0M529.0 184.8h0M543.1 170.5h0M528.5 178.2h0M531.8 181.9h0M537.5 180.1h0M540.3 174.6h0M526.2 191.0h0M551.5 155.1h0M531.8 186.1h0M543.1 177.5h0M531.8 185.2h0M543.0 173.8h0M537.5 175.9h0M535.2 171.1h0M539.6 177.5h0M543.1 179.8h0M543.0 178.7h0M545.6 166.4h0M534.7 177.3h0M529.0 172.8h0M534.7 208.5h0M534.7 185.6h0M543.1 173.6h0M537.5 171.5h0M534.7 193.4h0M529.0 173.5h0M543.1 165.6h0M529.0 182.3h0M540.3 150.2h0M545.9 162.7h0M543.7 160.3h0M531.8 191.8h0M537.5 156.9h0M551.5 179.7h0M529.0 192.5h0M545.9 198.6h0M537.5 200.9h0M543.1 167.6h0M537.3 182.5h0M529.0 189.9h0M542.0 181.1h0M526.2 179.6h0M551.5 172.0h0M548.7 167.4h0M537.5 172.2h0M541.3 178.1h0M540.3 175.1h0M554.3 179.4h0M526.2 182.1h0M534.7 166.9h0M537.5 175.4h0M548.7 167.6h0M545.9 165.9h0M565.5 149.6h0M554.3 166.3h0M571.2 161.4h0M565.5 147.3h0M557.6 162.4h0M571.2 168.3h0M565.5 141.8h0M562.7 176.8h0M561.9 158.2h0M568.3 148.9h0M559.9 155.7h0M565.5 183.6h0M580.8 154.3h0M568.3 168.6h0M562.7 167.6h0M568.3 174.6h0M580.1 152.1h0M579.6 166.3h0M574.0 154.9h0M579.6 164.7h0M575.6 145.7h0M574.0 139.7h0M565.5 153.8h0M557.1 163.5h0M574.9 172.1h0M571.2 159.8h0M582.4 146.1h0M562.7 163.9h0M578.9 150.0h0M559.9 164.2h0M580.9 156.1h0M582.3 159.2h0M554.3 165.1h0M562.7 175.5h0M582.4 142.5h0M582.4 147.4h0M573.1 160.1h0M557.1 174.2h0M554.5 175.1h0M559.9 162.2h0M579.6 156.3h0M576.8 139.7h0M566.3 156.3h0M576.8 174.5h0M579.6 161.1h0M562.7 158.1h0M578.9 145.4h0M561.9 143.7h0M563.5 169.2h0M554.3 177.3h0M558.8 180.7h0M571.2 156.7h0M554.3 161.2h0M569.6 160.7h0M559.9 172.1h0M574.0 161.5h0M557.1 155.3h0M559.9 159.5h0M561.9 168.6h0M570.7 147.9h0M577.0 142.2h0M575.5 155.2h0M574.0 154.7h0M573.5 162.2h0M569.6 154.5h0M562.7 154.7h0M559.9 158.2h0M579.6 160.7h0M565.5 153.8h0M572.6 157.9h0M557.1 176.5h0M564.4 154.6h0M557.1 166.8h0M565.5 158.8h0M574.0 159.8h0M563.9 156.8h0M574.0 181.7h0M557.1 180.5h0M565.5 162.5h0M565.5 144.5h0M568.6 155.9h0M559.9 172.9h0M573.9 134.9h0M579.6 154.2h0M576.8 152.8h0M555.2 160.9h0M568.0 149.7h0M564.0 149.9h0M571.2 156.6h0M557.1 182.3h0M574.0 149.2h0M566.0 148.0h0M579.6 162.2h0M554.3 166.9h0M565.5 156.0h0M568.3 156.5h0M577.6 153.2h0M576.8 159.3h0M559.9 159.3h0M562.7 164.6h0M575.0 164.7h0M566.1 158.2h0M562.7 156.9h0M579.6 161.6h0M576.8 141.8h0M565.5 178.5h0M569.7 151.8h0M579.6 146.6h0M559.9 166.0h0M579.8 161.9h0M579.6 148.0h0M574.0 156.1h0M574.0 150.5h0M574.0 136.9h0M568.3 174.0h0M571.2 167.6h0M559.9 165.7h0M571.2 165.5h0M574.0 142.1h0M567.9 154.0h0M574.0 159.3h0M567.2 166.2h0M576.8 156.2h0M574.0 135.9h0M557.1 168.8h0M576.8 171.6h0M562.7 158.0h0M557.1 167.0h0M557.7 170.5h0M562.7 165.0h0M568.3 154.0h0M562.7 171.5h0M559.9 136.3h0M576.8 148.3h0M565.5 160.5h0M579.6 154.2h0M559.9 161.7h0M573.7 153.8h0M564.3 157.6h0M578.2 157.0h0M571.2 148.1h0M573.4 144.2h0M556.9 159.0h0M576.8 168.7h0M565.5 160.3h0M574.0 163.0h0M576.8 147.3h0M557.7 177.0h0M554.3 168.5h0M575.6 159.0h0M582.4 149.9h0M579.6 144.9h0M565.5 168.1h0M576.8 143.7h0M554.3 157.3h0M557.1 162.3h0M571.2 152.0h0M568.3 152.4h0M577.5 160.6h0M560.9 160.8h0M568.3 151.2h0M582.1 153.7h0M562.7 151.5h0M565.5 164.3h0M571.4 172.1h0M582.4 147.9h0M559.4 156.2h0M573.7 171.2h0M565.5 186.7h0M565.6 153.6h0M562.7 159.9h0M568.3 180.3h0M570.5 148.9h0M565.5 161.5h0M568.3 153.4h0M572.2 152.5h0M579.6 159.2h0M570.1 177.8h0M565.1 157.2h0M582.4 169.9h0M559.9 169.8h0M554.3 164.7h0M579.6 151.9h0M561.8 143.4h0M559.9 155.5h0M565.1 162.5h0M562.7 168.4h0M565.5 161.5h0M579.6 164.0h0M562.5 164.5h0M558.0 150.4h0M559.9 160.3h0M579.6 147.4h0M566.4 166.3h0M565.5 161.3h0M576.8 167.1h0M580.6 168.7h0M568.3 161.0h0M577.2 141.4h0M561.7 175.2h0M565.5 163.4h0M570.5 159.4h0M559.9 158.4h0M562.7 158.4h0M559.9 163.4h0M561.7 156.0h0M576.8 154.5h0M576.8 152.8h0M557.1 163.1h0M562.7 161.2h0M574.6 155.4h0M579.6 156.8h0M570.0 159.3h0M574.0 161.3h0M561.0 174.0h0M576.3 159.2h0M576.8 149.4h0M565.7 163.2h0M560.9 157.7h0M554.3 167.0h0M571.2 156.5h0M571.2 149.5h0M554.3 165.3h0M568.3 170.5h0M580.7 158.3h0M554.3 170.4h0M557.1 162.3h0M557.1 170.2h0M565.5 167.3h0M565.1 150.6h0M606.8 143.7h0M584.3 162.7h0M588.0 149.3h0M608.7 143.6h0M582.4 141.3h0M590.8 141.7h0M593.6 133.9h0M582.4 161.3h0M590.8 146.6h0M599.2 140.1h0M599.2 138.9h0M599.2 129.0h0M602.0 143.9h0M599.6 145.9h0M582.4 147.9h0M602.0 144.4h0M598.8 153.3h0M588.0 147.2h0M593.6 144.8h0M588.0 149.4h0M607.7 131.1h0M590.2 120.0h0M588.0 133.8h0M604.9 143.0h0M604.9 138.8h0M607.7 119.5h0M601.4 138.4h0M593.6 142.4h0M595.7 150.5h0M598.0 155.6h0M599.2 181.5h0M607.7 141.2h0M590.8 142.7h0M604.0 146.5h0M582.4 150.1h0M588.0 164.9h0M607.7 133.3h0M589.4 148.9h0M596.7 138.7h0M607.7 149.6h0M602.0 146.1h0M596.1 136.0h0M602.0 134.4h0M609.9 131.1h0M607.7 120.7h0M588.0 140.1h0M585.2 152.0h0M590.8 144.7h0M585.2 146.2h0M603.8 162.4h0M604.9 160.1h0M585.2 148.5h0M584.4 137.5h0M590.8 136.6h0M602.0 150.1h0M604.0 140.1h0M596.4 145.6h0M599.2 156.3h0M608.2 123.5h0M607.7 151.4h0M585.2 142.1h0M602.0 120.0h0M604.9 134.2h0M607.7 161.3h0M594.1 154.6h0M588.0 137.9h0M596.4 145.8h0M592.8 135.6h0M593.4 151.5h0M604.9 150.3h0M600.7 143.1h0M602.0 135.8h0M602.0 134.2h0M586.4 156.2h0M585.2 154.2h0M593.6 148.8h0M606.3 134.1h0M599.2 138.0h0M604.9 130.9h0M599.2 136.6h0M604.9 138.4h0M610.4 144.0h0M602.4 152.0h0M607.7 124.8h0M610.5 128.1h0M602.0 131.7h0M604.9 155.1h0M584.6 165.7h0M582.4 160.6h0M607.7 158.9h0M588.0 135.7h0M591.0 147.1h0M586.2 162.9h0M600.2 143.1h0M582.4 150.9h0M604.9 127.1h0M590.8 143.3h0M602.0 138.0h0M608.0 110.5h0M602.0 150.8h0M593.6 158.8h0M599.2 135.8h0M606.4 133.6h0M602.0 139.5h0M590.8 142.9h0M582.4 155.7h0M607.1 146.0h0M599.2 158.0h0M585.2 154.5h0M597.9 137.7h0M599.2 149.0h0M590.8 141.7h0M607.3 137.8h0M588.0 153.7h0M585.2 152.7h0M619.2 123.8h0M618.9 138.8h0M635.3 129.6h0M630.1 119.6h0M613.3 133.8h0M621.7 134.8h0M613.4 125.5h0M630.1 134.1h0M635.7 133.6h0M613.3 158.0h0M624.5 125.6h0M616.1 128.4h0M618.9 140.1h0M630.1 120.7h0M637.9 126.3h0M618.9 133.4h0M624.5 123.8h0M619.2 105.0h0M613.3 127.8h0M627.3 136.5h0M616.1 123.6h0M629.8 126.7h0M630.1 123.9h0M614.5 145.2h0M627.3 123.0h0M616.1 141.8h0M632.9 106.6h0M618.5 146.5h0M629.8 140.0h0M628.7 142.0h0M627.3 128.4h0M616.1 127.1h0M632.9 138.7h0M621.7 128.5h0M632.9 129.6h0M624.5 121.5h0M623.1 141.8h0M630.1 129.7h0M647.0 112.7h0M660.0 122.2h0M649.8 121.9h0M658.2 102.4h0M658.1 114.7h0M663.8 98.5h0M650.0 121.7h0M647.0 135.9h0M666.6 106.3h0M652.6 115.1h0M649.8 112.6h0M658.2 126.2h0M385.8 195.0h0M385.8 242.3h0M385.8 280.1h0M472.3 135.0h0M635.5 90.3h0M525.4 131.6h0M475.1 184.7h0M453.2 186.7h0M451.5 189.7h0" stroke="#D95F02" stroke-width="1.5" stroke-linecap="round" fill="none" opacity="1.0"/>
<path d="M105.7 612.8h0M92.6 617.7h0M106.5 607.7h0M87.1 621.2h0M108.6 600.5h0M107.2 605.1h0M89.7 618.5h0M96.2 613.3h0M103.4 608.7h0M94.8 619.5h0M103.9 602.0h0M88.3 618.6h0M98.3 607.6h0M109.3 609.6h0M97.1 618.6h0M103.1 607.3h0M87.0 620.1h0M92.6 617.7h0M88.9 617.2h0M95.0 620.3h0M93.6 614.6h0M96.0 623.7h0M91.5 622.0h0M105.0 613.3h0M94.9 613.1h0M98.0 616.1h0M105.6 606.2h0M98.8 607.9h0M84.5 626.8h0M102.9 603.4h0M97.7 618.0h0M95.2 609.7h0M99.5 616.9h0M107.7 612.2h0M102.5 606.7h0M103.4 600.2h0M90.8 626.2h0M96.3 609.9h0M93.2 612.4h0M96.7 612.5h0M108.2 613.2h0M103.5 614.2h0M109.0 600.1h0M99.8 623.2h0M100.1 605.3h0M120.7 580.5h0M126.2 597.5h0M117.2 604.1h0M125.8 583.3h0M116.7 601.3h0M122.8 586.2h0M109.5 605.9h0M123.1 594.4h0M122.8 591.9h0M117.0 591.6h0M129.8 580.4h0M105.1 607.1h0M119.3 584.3h0M119.4 583.2h0M119.1 588.7h0M121.8 601.8h0M131.7 587.9h0M109.9 603.9h0M115.6 593.9h0M109.8 593.6h0M114.4 602.6h0M115.8 588.6h0M123.2 599.2h0M121.5 589.9h0M122.9 594.1h0M114.0 600.6h0M120.8 584.0h0M112.8 602.5h0M125.7 587.7h0M115.6 585.4h0M127.0 585.3h0M114.4 608.0h0M117.4 603.4h0M116.4 600.1h0M130.2 582.7h0M132.3 580.5h0M111.2 613.0h0M122.2 599.6h0M108.6 612.3h0M122.8 591.2h0M111.7 598.3h0M106.3 607.0h0M130.6 580.4h0M127.8 587.9h0M111.5 600.5h0M123.9 579.6h0M105.8 601.2h0M111.0 605.2h0M107.9 606.5h0M120.6 584.9h0M113.6 599.4h0M131.6 588.2h0M131.9 579.6h0M115.8 606.0h0M107.0 603.6h0M120.7 596.4h0M121.5 589.7h0M125.8 572.3h0M113.2 597.7h0M123.5 597.9h0M116.7 608.3h0M125.2 587.9h0M131.1 585.6h0M129.0 595.3h0M115.9 601.0h0M120.6 593.1h0M109.0 610.9h0M113.7 600.3h0M114.4 595.2h0M127.6 592.0h0M145.4 560.6h0M147.7 575.8h0M140.9 583.5h0M129.1 577.5h0M138.6 580.2h0M139.6 581.6h0M133.4 588.6h0M156.0 558.1h0M143.6 577.6h0M137.8 581.4h0M145.1 585.3h0M148.7 579.0h0M149.7 570.3h0M131.7 593.7h0M142.3 577.6h0M147.7 560.5h0M151.4 564.9h0M128.5 578.2h0M151.5 573.5h0M144.6 567.2h0M138.3 580.8h0M138.0 572.0h0M136.6 587.4h0M126.0 587.5h0M147.1 562.1h0M154.0 561.9h0M134.5 578.6h0M155.1 564.8h0M134.8 598.4h0M143.7 579.2h0M150.1 572.9h0M138.5 570.2h0M146.6 569.0h0M128.5 593.5h0M133.5 574.7h0M125.2 586.1h0M146.7 582.6h0M133.8 571.6h0M138.0 574.6h0M143.7 550.8h0M146.7 561.5h0M135.5 591.6h0M139.0 568.0h0M137.1 576.7h0M140.3 578.6h0M138.4 574.8h0M133.3 576.9h0M141.3 577.4h0M130.7 591.0h0M150.1 561.9h0M139.9 573.1h0M133.6 590.4h0M145.5 560.7h0M136.5 581.0h0M141.3 560.2h0M130.6 573.3h0M148.8 569.1h0M152.8 557.9h0M141.5 582.4h0M132.4 581.2h0M136.3 593.3h0M149.5 576.3h0M149.4 568.0h0M137.8 573.1h0M141.5 567.9h0M145.9 561.5h0M140.6 567.5h0M144.6 575.4h0M145.6 571.6h0M131.5 588.2h0M146.1 570.2h0M140.0 589.6h0M134.3 587.1h0M141.7 563.4h0M139.7 574.8h0M164.5 559.8h0M130.0 579.7h0M146.6 567.8h0M142.0 574.6h0M136.5 581.8h0M141.0 582.9h0M133.5 581.9h0M143.9 571.6h0M147.1 569.4h0M161.0 544.9h0M156.8 560.8h0M144.5 569.4h0M144.2 562.1h0M142.9 566.6h0M147.2 585.5h0M148.5 568.9h0M139.7 584.0h0M153.0 570.5h0M128.8 578.7h0M126.9 575.6h0M143.0 569.8h0M137.8 595.6h0M129.0 589.2h0M139.3 578.9h0M145.7 574.6h0M141.3 562.3h0M145.2 567.5h0M142.9 567.9h0M135.4 579.5h0M149.4 560.3h0M126.5 589.1h0M132.0 592.8h0M135.0 580.4h0M134.2 586.4h0M140.8 587.0h0M141.2 590.0h0M147.1 574.3h0M143.9 574.6h0M150.0 552.4h0M156.4 566.5h0M135.7 585.2h0M135.0 581.1h0M148.4 562.0h0M136.0 589.1h0M141.1 577.0h0M164.8 543.3h0M182.4 523.6h0M174.8 551.6h0M157.3 574.7h0M157.2 561.9h0M167.7 553.3h0M165.9 543.9h0M154.7 555.7h0M161.5 556.4h0M144.1 579.0h0M168.2 548.1h0M178.1 549.7h0M172.5 555.3h0M163.5 555.5h0M172.9 529.6h0M152.5 550.5h0M155.9 549.9h0M175.4 558.6h0M166.8 546.9h0M162.2 562.7h0M154.0 559.6h0M163.5 547.6h0M164.6 548.2h0M163.9 560.2h0M164.8 562.4h0M171.8 541.6h0M155.7 551.7h0M150.9 572.2h0M154.8 569.9h0M150.7 567.5h0M168.3 555.6h0M181.8 530.2h0M159.1 550.2h0M144.5 565.4h0M155.2 567.4h0M168.9 557.7h0M162.4 558.7h0M168.0 549.9h0M158.9 552.0h0M171.9 543.8h0M165.5 556.0h0M150.9 561.4h0M153.6 557.2h0M164.3 555.1h0M161.3 564.8h0M174.6 540.8h0M173.6 537.4h0M158.1 553.9h0M155.2 570.5h0M156.0 557.8h0M170.9 547.3h0M160.7 559.1h0M164.9 554.7h0M177.3 547.1h0M157.9 565.1h0M170.9 545.5h0M173.5 545.8h0M154.6 561.6h0M174.8 554.6h0M167.4 549.3h0M173.1 532.5h0M171.2 556.9h0M146.1 569.4h0M156.4 561.1h0M163.2 552.6h0M165.7 546.6h0M168.0 555.7h0M176.5 535.4h0M161.9 550.5h0M177.7 544.5h0M151.9 559.8h0M151.0 555.9h0M154.4 551.1h0M145.8 571.8h0M172.9 538.8h0M154.3 562.6h0M156.8 566.5h0M184.9 513.8h0M176.0 533.8h0M139.9 569.1h0M155.7 563.1h0M171.4 545.0h0M162.6 558.4h0M154.7 546.4h0M164.1 557.9h0M155.4 560.6h0M180.7 530.8h0M159.2 558.7h0M152.6 556.3h0M160.3 554.5h0M159.3 558.2h0M175.5 543.2h0M152.3 579.9h0M155.9 553.1h0M153.4 558.2h0M166.9 547.8h0M155.5 559.8h0M163.0 563.0h0M154.7 561.4h0M158.5 566.2h0M149.8 571.0h0M178.6 551.1h0M172.9 549.2h0M166.7 542.9h0M157.3 556.3h0M165.8 560.1h0M167.2 558.5h0M167.2 542.1h0M156.8 562.5h0M152.0 557.9h0M177.7 527.5h0M169.4 540.7h0M176.5 552.2h0M187.7 553.2h0M158.7 545.8h0M171.7 558.9h0M153.9 574.5h0M167.3 555.7h0M161.7 559.1h0M155.1 557.3h0M154.6 567.9h0M166.8 559.1h0M176.1 536.1h0M166.0 560.4h0M179.2 516.9h0M154.6 573.7h0M162.8 554.7h0M158.3 549.7h0M156.6 560.5h0M155.4 574.8h0M172.8 546.5h0M165.5 543.7h0M157.2 566.1h0M150.0 579.4h0M162.8 555.5h0M156.8 577.7h0M158.3 555.2h0M164.5 547.5h0M165.5 551.5h0M179.0 550.7h0M171.1 538.5h0M181.9 526.0h0M160.6 547.4h0M152.7 567.2h0M158.2 555.0h0M174.1 551.0h0M162.7 545.0h0M160.9 560.3h0M161.8 565.9h0M157.6 561.5h0M153.0 559.4h0M170.2 549.3h0M159.4 559.5h0M166.4 560.0h0M176.1 542.5h0M177.0 543.2h0M166.3 551.4h0M174.7 545.9h0M160.6 557.7h0M167.2 558.2h0M190.1 514.5h0M181.5 552.8h0M172.2 544.9h0M181.4 528.4h0M191.1 545.8h0M184.6 550.8h0M174.2 538.8h0M176.4 520.8h0M176.4 533.8h0M196.5 528.9h0M182.0 543.0h0M184.3 541.4h0M194.0 539.3h0M192.0 535.2h0M178.4 533.7h0M178.2 544.4h0M199.4 519.4h0M190.6 523.3h0M173.9 551.2h0M184.7 539.3h0M184.6 534.4h0M181.4 545.9h0M178.5 540.5h0M181.9 532.8h0M190.4 530.5h0M206.5 532.2h0M179.5 538.1h0M189.5 533.4h0M192.0 529.6h0M190.3 541.4h0M185.8 534.3h0M201.3 522.1h0M183.6 542.0h0M193.4 535.2h0M170.7 549.8h0M201.3 538.9h0M173.6 543.8h0M202.1 525.2h0M198.2 514.5h0M184.5 552.5h0M177.4 546.7h0M194.8 524.3h0M186.5 532.1h0M174.6 548.7h0M194.6 518.4h0M192.8 533.1h0M179.9 535.9h0M175.2 545.0h0M190.2 533.5h0M205.3 525.0h0M208.6 521.3h0M174.9 549.5h0M188.8 529.5h0M182.3 543.4h0M186.8 543.5h0M177.9 537.0h0M185.4 534.3h0M182.1 533.7h0M181.2 538.6h0M182.6 523.3h0M180.0 534.0h0M187.7 530.7h0M177.1 538.7h0M183.3 528.7h0M180.8 538.2h0M181.0 533.1h0M181.9 540.3h0M181.7 525.2h0M190.1 532.7h0M198.6 553.3h0M186.3 528.8h0M204.6 521.4h0M178.4 543.0h0M204.5 512.0h0M171.9 570.7h0M191.4 546.1h0M192.8 530.2h0M167.4 562.5h0M177.4 537.3h0M181.9 534.1h0M197.6 528.5h0M191.1 522.9h0M192.2 546.8h0M178.9 542.0h0M183.9 528.9h0M182.6 526.0h0M199.2 517.9h0M177.7 529.4h0M207.6 511.7h0M181.3 540.1h0M178.5 538.7h0M174.2 524.6h0M173.0 527.8h0M178.2 538.3h0M186.2 530.1h0M170.8 543.8h0M172.0 559.5h0M174.1 549.6h0M157.6 558.7h0M171.6 554.0h0M180.3 541.6h0M186.3 545.2h0M171.3 548.7h0M165.0 545.4h0M171.5 547.2h0M172.3 540.1h0M189.9 532.9h0M190.1 538.3h0M187.2 532.7h0M178.6 556.7h0M188.8 539.1h0M192.2 532.4h0M206.0 522.4h0M195.0 523.6h0M179.1 547.8h0M178.6 533.8h0M175.4 537.5h0M170.6 547.7h0M197.0 531.2h0M185.2 545.7h0M205.7 511.7h0M178.6 543.9h0M182.8 514.3h0M196.1 518.3h0M192.3 516.8h0M194.8 535.4h0M193.0 529.4h0M176.4 547.7h0M185.9 556.2h0M178.1 540.0h0M170.3 552.5h0M193.5 531.1h0M166.6 549.2h0M207.3 506.7h0M189.2 527.1h0M183.7 522.1h0M183.9 542.7h0M172.4 540.2h0M202.2 527.6h0M190.9 532.9h0M198.5 513.9h0M190.6 526.4h0M199.5 520.8h0M153.3 562.3h0M169.1 544.4h0M184.0 525.6h0M182.5 532.7h0M176.5 546.9h0M194.3 520.1h0M186.7 534.5h0M176.1 541.4h0M171.8 546.1h0M199.5 514.2h0M196.9 523.1h0M184.2 539.7h0M182.5 550.1h0M205.2 529.8h0M203.7 515.8h0M191.4 535.8h0M184.4 528.7h0M192.5 528.7h0M180.1 537.6h0M186.6 534.7h0M194.1 504.9h0M166.9 543.9h0M176.4 538.9h0M176.4 537.6h0M189.0 553.2h0M206.4 524.8h0M192.7 518.1h0M175.2 533.6h0M194.9 533.8h0M183.0 555.6h0M196.0 537.8h0M180.1 535.7h0M189.2 533.8h0M187.2 524.3h0M192.3 531.5h0M188.0 530.9h0M194.5 522.8h0M201.6 522.2h0M181.9 542.5h0M191.8 535.4h0M175.0 546.5h0M171.0 548.1h0M179.5 532.4h0M191.0 530.1h0M189.6 536.7h0M179.6 550.1h0M174.4 551.9h0M180.3 536.8h0M182.6 537.1h0M194.2 515.8h0M194.9 528.3h0M195.8 530.1h0M168.5 539.0h0M184.6 527.7h0M198.0 513.5h0M171.4 558.2h0M203.5 519.9h0M182.7 535.9h0M192.3 527.6h0M175.7 564.0h0M177.4 542.3h0M166.8 552.3h0M171.0 539.1h0M188.7 534.6h0M190.4 530.5h0M181.2 540.8h0M182.3 547.7h0M182.1 532.9h0M202.3 503.1h0M184.8 544.4h0M171.8 534.8h0M191.9 514.5h0M235.7 504.6h0M215.7 520.9h0M224.3 508.7h0M242.3 494.7h0M198.1 530.7h0M200.3 531.8h0M189.4 535.1h0M218.8 501.5h0M196.6 518.3h0M199.4 524.9h0M215.5 518.3h0M178.3 537.2h0M201.5 515.6h0M198.1 531.4h0M200.9 518.1h0M203.5 529.7h0M223.0 509.1h0M202.0 519.9h0M214.2 512.4h0M214.6 499.2h0M206.1 518.8h0M189.6 529.7h0M206.0 506.8h0M225.8 515.0h0M209.6 508.0h0M210.2 502.7h0M206.4 518.9h0M213.9 499.8h0M205.5 528.1h0M211.2 521.0h0M216.0 521.4h0M199.7 508.4h0M215.9 516.9h0M182.9 533.3h0M203.1 535.6h0M224.6 491.7h0M201.3 534.2h0M206.3 524.1h0M206.1 541.6h0M201.8 533.2h0M204.0 510.5h0M206.9 529.9h0M203.3 505.1h0M200.7 501.9h0M209.6 516.1h0M202.8 533.2h0M216.3 512.0h0M214.7 507.4h0M203.8 538.7h0M224.6 507.5h0M203.6 518.2h0M212.0 508.0h0M210.0 532.1h0M208.0 516.2h0M193.3 527.8h0M205.8 507.0h0M208.1 512.6h0M192.7 519.5h0M215.3 503.7h0M202.0 529.0h0M199.5 497.3h0M187.1 528.1h0M214.1 507.6h0M220.0 508.6h0M205.1 503.2h0M204.4 517.9h0M190.0 526.3h0M179.3 539.1h0M211.5 513.7h0M212.1 527.2h0M214.6 515.3h0M230.8 477.3h0M207.2 513.8h0M183.4 543.5h0M202.3 529.1h0M213.5 518.9h0M229.3 501.0h0M208.4 516.8h0M206.4 503.1h0M218.1 503.0h0M192.7 513.6h0M204.5 534.7h0M185.7 537.0h0M196.7 543.6h0M209.2 535.5h0M198.9 521.7h0M205.5 535.1h0M215.4 508.5h0M195.8 534.8h0M207.1 505.4h0M215.7 497.0h0M198.1 539.3h0M212.1 504.6h0M205.2 518.4h0M219.6 500.2h0M213.2 516.2h0M220.0 492.8h0M212.7 501.9h0M210.2 514.3h0M192.9 543.9h0M213.4 534.5h0M211.2 503.3h0M223.5 500.1h0M202.1 534.7h0M201.4 530.7h0M201.7 496.6h0M215.0 520.5h0M241.0 482.8h0M210.6 500.7h0M193.5 506.9h0M216.8 504.6h0M205.3 513.3h0M184.9 546.9h0M245.3 477.6h0M241.6 486.2h0M198.8 534.2h0M215.8 520.3h0M202.8 508.2h0M210.1 503.4h0M225.9 472.4h0M222.7 506.1h0M199.0 543.0h0M202.7 500.8h0M223.9 495.0h0M211.8 495.3h0M191.9 536.3h0M209.1 518.5h0M206.9 501.7h0M183.5 544.5h0M228.7 497.7h0M195.7 526.6h0M225.4 490.7h0M209.1 504.2h0M214.7 517.1h0M216.5 498.4h0M203.7 521.3h0M208.2 516.2h0M217.8 505.0h0M202.5 511.0h0M185.5 536.1h0M191.8 525.0h0M190.7 537.6h0M185.9 547.8h0M199.6 533.2h0M206.3 514.1h0M216.8 506.3h0M197.4 523.0h0M209.5 526.8h0M195.1 533.7h0M221.1 503.1h0M213.9 502.8h0M190.5 525.9h0M210.2 516.3h0M204.3 525.1h0M187.3 547.3h0M194.2 532.3h0M207.9 503.9h0M198.1 526.0h0M213.5 515.7h0M193.3 525.7h0M223.5 473.5h0M207.6 520.0h0M224.7 510.2h0M205.7 533.7h0M214.2 529.8h0M188.2 529.2h0M210.1 510.2h0M223.1 508.1h0M230.2 491.4h0M214.3 503.8h0M204.7 525.6h0M200.8 519.1h0M233.0 484.1h0M214.8 523.9h0M202.2 521.8h0M204.6 517.5h0M203.0 537.1h0M203.0 496.4h0M184.3 526.6h0M207.0 497.6h0M220.4 518.9h0M199.2 523.6h0M220.9 491.8h0M211.8 516.6h0M221.9 481.6h0M223.2 512.8h0M201.0 521.7h0M203.1 523.1h0M215.8 524.7h0M204.2 520.9h0M213.1 510.7h0M188.9 542.1h0M225.3 504.8h0M210.4 503.6h0M213.3 501.9h0M206.9 511.7h0M197.1 518.0h0M222.4 489.0h0M222.2 504.2h0M210.4 519.9h0M192.7 527.8h0M210.8 511.0h0M208.1 521.3h0M212.8 508.4h0M209.4 510.7h0M198.5 513.5h0M229.9 505.3h0M189.7 519.9h0M209.8 515.3h0M200.6 535.0h0M190.0 521.0h0M194.8 522.0h0M219.6 503.4h0M210.4 524.1h0M213.4 501.9h0M193.8 537.4h0M201.7 530.9h0M226.1 499.7h0M213.6 500.7h0M176.0 543.3h0M190.9 529.3h0M199.3 531.5h0M230.4 485.5h0M232.2 497.3h0M203.8 513.0h0M225.3 470.8h0M210.7 510.5h0M211.3 522.3h0M210.8 526.7h0M201.2 530.6h0M207.7 525.2h0M212.0 509.0h0M209.7 500.6h0M203.6 518.9h0M231.4 497.5h0M203.7 513.0h0M220.7 512.4h0M205.3 519.9h0M203.7 510.2h0M215.8 496.2h0M204.6 521.7h0M191.6 533.2h0M214.4 514.3h0M192.7 526.1h0M215.8 493.0h0M217.0 506.4h0M209.6 525.1h0M207.4 505.2h0M213.5 499.4h0M196.2 514.8h0M190.0 523.4h0M206.2 520.2h0M197.7 534.0h0M183.6 531.8h0M206.1 519.6h0M246.4 479.7h0M244.3 468.7h0M226.4 517.3h0M225.1 517.4h0M218.7 520.3h0M238.7 495.3h0M229.2 497.5h0M216.2 504.8h0M242.7 493.0h0M241.7 473.0h0M235.3 494.2h0M230.1 487.9h0M229.0 479.7h0M206.3 505.9h0M237.4 492.2h0M225.3 500.5h0M240.5 480.9h0M234.8 482.7h0M227.8 509.5h0M216.6 518.5h0M239.6 493.3h0M221.5 492.2h0M215.2 506.7h0M232.0 494.8h0M212.0 525.6h0M225.2 514.0h0M225.8 495.7h0M232.1 505.0h0M215.8 498.7h0M204.0 527.1h0M205.7 515.6h0M210.6 505.7h0M230.5 489.4h0M232.8 493.4h0M241.0 462.9h0M249.3 479.3h0M215.8 504.0h0M248.9 482.4h0M236.9 478.7h0M222.9 489.5h0M231.4 481.9h0M249.8 474.7h0M239.7 476.7h0M252.3 486.8h0M259.8 473.3h0M224.1 494.0h0M237.0 512.5h0M248.4 496.6h0M246.1 473.6h0M232.8 491.2h0M214.2 512.3h0M251.8 478.4h0M214.6 494.5h0M236.0 485.3h0M221.2 507.0h0M216.4 522.4h0M236.6 488.4h0M226.9 510.1h0M237.8 490.7h0M236.4 497.9h0M223.0 488.9h0M234.7 498.9h0M222.7 502.4h0M237.8 473.7h0M249.8 502.3h0M218.9 510.8h0M226.2 515.4h0M232.0 477.2h0M205.9 512.8h0M251.4 477.3h0M222.8 500.2h0M220.1 496.5h0M219.2 499.2h0M213.0 509.3h0M235.5 480.4h0M221.1 499.3h0M226.7 478.0h0M235.9 501.5h0M233.6 495.6h0M226.7 490.3h0M236.8 480.5h0M240.1 491.7h0M219.6 491.1h0M226.9 488.2h0M233.1 474.4h0M241.3 488.0h0M217.6 494.0h0M240.4 486.8h0M219.8 500.5h0M239.7 478.3h0M226.8 502.3h0M214.6 512.0h0M234.4 472.7h0M236.4 499.6h0M201.8 514.9h0M223.8 486.9h0M222.1 486.8h0M238.4 489.4h0M215.0 518.6h0M233.7 480.3h0M248.5 484.6h0M227.5 497.4h0M224.4 507.7h0M221.8 516.8h0M232.8 499.3h0M227.8 500.1h0M227.8 515.7h0M235.6 475.6h0M210.8 515.1h0M216.4 491.3h0M220.7 492.1h0M222.7 507.7h0M240.3 486.6h0M228.5 501.5h0M236.7 489.7h0M243.4 482.6h0M226.1 495.0h0M234.0 487.4h0M225.8 497.6h0M226.5 504.9h0M245.2 498.7h0M234.5 489.2h0M241.0 487.9h0M224.8 493.4h0M208.5 520.6h0M215.1 506.2h0M231.0 504.6h0M201.4 517.3h0M240.7 488.8h0M220.4 499.8h0M218.2 480.0h0M236.3 481.3h0M246.8 481.6h0M215.7 505.3h0M236.8 489.0h0M242.6 484.6h0M244.4 481.8h0M235.7 490.2h0M212.6 510.9h0M205.0 508.1h0M207.1 506.4h0M233.7 474.0h0M241.3 480.2h0M220.8 499.1h0M233.9 467.2h0M237.7 503.5h0M208.3 512.6h0M239.6 481.7h0M248.3 472.2h0M246.9 487.1h0M229.4 499.8h0M241.0 500.8h0M216.6 512.5h0M211.3 530.5h0M226.0 491.1h0M226.3 500.7h0M231.6 504.5h0M234.5 477.0h0M225.6 499.5h0M242.2 495.0h0M231.3 489.6h0M205.6 521.9h0M222.6 521.4h0M220.8 503.0h0M210.8 498.0h0M232.5 511.0h0M227.0 502.7h0M212.3 504.5h0M231.0 491.7h0M251.1 467.1h0M224.3 503.1h0M237.8 475.0h0M246.4 480.8h0M260.8 469.1h0M230.0 491.5h0M237.7 491.6h0M189.8 534.2h0M211.6 516.4h0M212.6 519.0h0M225.9 506.5h0M234.9 505.1h0M227.4 492.3h0M242.6 481.2h0M215.5 527.7h0M220.5 508.4h0M225.7 499.0h0M227.8 507.8h0M235.4 486.6h0M218.2 511.9h0M213.6 510.0h0M229.3 505.9h0M216.2 506.1h0M230.4 493.8h0M232.6 469.9h0M224.8 484.6h0M213.8 508.5h0M215.0 508.5h0M230.8 494.3h0M219.9 502.1h0M240.5 508.9h0M211.3 512.7h0M233.8 485.9h0M208.2 514.8h0M257.2 484.6h0M201.4 535.4h0M215.8 526.0h0M233.4 476.1h0M229.5 488.8h0M204.6 505.7h0M211.2 515.4h0M219.1 512.8h0M234.9 507.5h0M253.2 471.2h0M251.5 491.9h0M219.1 513.3h0M233.2 480.9h0M255.1 457.4h0M241.4 488.2h0M238.1 479.5h0M220.7 502.6h0M242.3 479.7h0M220.7 516.8h0M224.3 497.9h0M225.1 497.5h0M232.8 489.2h0M231.1 490.8h0M227.1 497.0h0M207.1 510.8h0M237.5 496.8h0M236.0 486.6h0M247.2 489.8h0M258.6 468.9h0M231.4 498.8h0M239.8 494.2h0M249.9 484.1h0M258.1 476.7h0M268.3 452.7h0M242.7 491.8h0M267.9 457.7h0M214.3 504.5h0M230.3 473.1h0M255.5 462.3h0M268.5 471.6h0M281.4 462.9h0M242.7 483.4h0M235.2 486.0h0M224.4 507.0h0M241.6 475.2h0M262.3 487.7h0M247.7 501.4h0M245.0 489.9h0M261.1 461.1h0M241.8 475.5h0M244.7 481.5h0M259.9 453.0h0M232.7 488.1h0M257.9 472.2h0M246.5 464.7h0M257.9 466.8h0M232.2 501.6h0M234.5 488.1h0M251.7 487.4h0M226.3 487.7h0M269.9 462.4h0M248.8 497.5h0M243.9 469.5h0M249.7 473.5h0M251.8 481.3h0M260.2 466.7h0M233.4 485.4h0M252.3 475.8h0M238.5 485.3h0M240.0 475.2h0M256.4 476.2h0M258.1 470.3h0M247.3 460.9h0M241.6 488.0h0M243.3 490.6h0M236.1 488.9h0M270.8 448.1h0M264.8 473.0h0M246.2 483.2h0M219.7 510.5h0M250.3 458.5h0M279.7 437.2h0M254.8 469.4h0M255.4 460.3h0M254.2 488.5h0M263.0 474.3h0M245.6 478.3h0M245.0 468.0h0M249.5 493.7h0M253.9 470.5h0M243.9 486.0h0M233.7 495.0h0M268.6 459.7h0M243.2 495.0h0M254.5 458.0h0M234.2 497.3h0M217.5 503.1h0M255.5 484.7h0M250.5 484.6h0M212.0 528.3h0M264.4 448.5h0M258.7 440.9h0M245.7 480.5h0M250.7 472.9h0M265.7 441.1h0M257.1 478.0h0M219.3 502.1h0M263.4 473.1h0M232.7 484.3h0M241.8 480.1h0M265.8 451.1h0M241.8 473.9h0M222.0 512.7h0M241.2 491.5h0M238.2 485.6h0M224.7 493.9h0M270.8 459.8h0M243.5 476.5h0M245.3 473.0h0M248.8 482.8h0M245.8 480.6h0M265.0 468.5h0M252.1 487.9h0M236.8 478.2h0M257.0 450.9h0M262.0 468.4h0M264.7 444.8h0M235.5 473.5h0M255.3 478.7h0M249.1 481.4h0M242.5 489.3h0M255.2 462.0h0M258.6 454.8h0M276.5 459.0h0M265.7 479.9h0M259.8 467.5h0M237.5 475.0h0M246.0 476.4h0M233.9 491.3h0M229.8 511.6h0M254.6 466.3h0M259.8 471.8h0M244.6 481.5h0M233.9 490.1h0M246.6 484.9h0M273.7 466.4h0M251.6 474.4h0M272.8 450.6h0M266.4 443.4h0M284.3 449.5h0M286.3 456.3h0M278.6 430.8h0M235.0 479.5h0M272.4 465.4h0M274.9 457.6h0M275.0 453.9h0M277.2 436.8h0M261.7 466.6h0M264.6 448.1h0M264.1 461.8h0M257.0 478.6h0M258.1 467.5h0M269.3 478.4h0M280.6 456.7h0M278.7 444.8h0M269.7 468.5h0M282.5 451.7h0M241.2 498.0h0M258.2 469.6h0M257.0 489.3h0M269.3 463.9h0M285.2 437.3h0M270.9 464.4h0M292.8 428.9h0M285.9 440.6h0M284.9 438.9h0M253.4 481.8h0M266.1 463.4h0M260.4 479.0h0M258.7 477.3h0M286.7 449.9h0M284.4 440.5h0M275.8 436.8h0M292.8 453.9h0M270.2 442.5h0M260.4 493.0h0M268.9 483.2h0M282.5 429.0h0M297.7 421.1h0M309.6 421.8h0M291.5 437.6h0M295.1 436.5h0M287.8 467.7h0M300.2 424.7h0M301.4 436.7h0M302.4 454.1h0M277.6 447.0h0M297.2 426.9h0M280.8 434.8h0M81.3 630.6h0M77.6 630.3h0M80.3 630.3h0M78.2 630.5h0M78.8 630.1h0M83.6 631.1h0M77.4 631.4h0M71.3 631.4h0M77.1 630.8h0M74.0 631.4h0M75.5 630.6h0M82.4 630.9h0M79.5 629.6h0M76.1 631.5h0M77.9 629.9h0M81.2 630.2h0M78.9 629.0h0M83.1 631.2h0M75.5 630.3h0M79.0 631.2h0M78.7 631.0h0M75.8 630.5h0M82.5 630.0h0M80.2 629.6h0M78.7 631.0h0M87.2 631.3h0M82.1 630.6h0M89.0 629.9h0M92.5 630.3h0M81.7 630.2h0M84.8 630.0h0M89.0 630.7h0M87.1 630.3h0M73.9 629.2h0M78.8 630.3h0M82.1 631.2h0M76.9 631.0h0M80.9 630.9h0M91.7 630.5h0M86.9 630.2h0M79.5 631.8h0M80.1 631.3h0M89.5 631.0h0M76.1 631.5h0M86.2 632.2h0M86.3 631.6h0M75.8 629.9h0M78.7 631.7h0M81.9 629.5h0M78.1 630.7h0M90.9 630.6h0M83.9 629.3h0M73.5 629.3h0M79.7 631.6h0M73.8 630.0h0M80.8 630.3h0M87.0 631.3h0M80.2 631.0h0M85.4 631.4h0M77.2 629.5h0M63.9 630.8h0M321.7 378.7h0M295.1 402.5h0M208.2 549.9h0M201.7 462.5h0M76.0 612.5h0M156.8 591.0h0M302.3 433.6h0M299.3 443.8h0M296.7 445.3h0M295.3 432.5h0" stroke="#000" stroke-width="1.45" stroke-linecap="round" fill="none" opacity="1.0"/>
<path d="M554.0 467.2h0M469.1 558.0h0M482.7 547.0h0M495.7 555.7h0M479.5 557.8h0M521.5 490.3h0M504.2 505.5h0M493.9 578.4h0M464.4 524.8h0M465.8 534.2h0M499.8 553.5h0M458.7 556.4h0M516.1 505.4h0M489.4 585.0h0M520.5 520.0h0M505.7 527.3h0M511.6 528.1h0M507.7 551.1h0M485.3 549.0h0M479.2 537.2h0M491.4 534.8h0M501.9 551.1h0M515.7 482.8h0M494.7 556.7h0M527.2 522.3h0M490.4 533.8h0M475.3 563.7h0M483.8 557.6h0M486.0 555.1h0M529.0 512.5h0M516.9 480.7h0M507.8 533.0h0M497.7 545.7h0M505.3 549.5h0M474.0 552.8h0M550.5 482.8h0M511.4 539.2h0M521.2 524.6h0M524.3 508.1h0M498.6 545.7h0M496.7 551.0h0M479.9 539.5h0M497.9 515.2h0M495.7 544.0h0M460.9 601.0h0M504.6 523.6h0M474.2 582.0h0M495.1 507.8h0M546.7 491.2h0M535.0 494.8h0M468.6 556.2h0M503.2 515.4h0M506.7 517.4h0M532.1 500.7h0M541.1 496.7h0M500.0 560.3h0M488.3 533.4h0M507.4 533.3h0M509.7 522.3h0M461.6 550.9h0M505.7 544.0h0M490.9 555.4h0M534.0 492.8h0M512.2 536.6h0M504.6 539.1h0M516.7 528.3h0M496.1 527.7h0M502.7 537.5h0M506.5 526.2h0M461.7 544.2h0M517.6 511.1h0M520.4 509.7h0M514.7 523.5h0M522.3 523.0h0M475.1 580.5h0M503.7 535.3h0M495.5 520.4h0M494.4 508.7h0M474.1 566.0h0M480.0 551.2h0M496.6 529.3h0M476.6 549.3h0M487.3 556.4h0M474.7 595.4h0M508.6 535.5h0M541.2 511.9h0M507.4 534.3h0M496.9 540.4h0M469.9 572.0h0M483.8 544.9h0M512.2 536.0h0M503.9 569.9h0M493.6 534.3h0M459.5 570.1h0M475.0 549.2h0M506.2 513.2h0M477.4 579.1h0M515.2 526.6h0M500.4 555.9h0M477.7 550.3h0M536.2 527.3h0M445.4 624.8h0M489.1 522.9h0M467.0 581.0h0M490.7 552.3h0M509.4 521.1h0M526.0 498.7h0M506.8 527.2h0M493.8 546.9h0M503.2 500.5h0M472.6 563.1h0M495.5 553.7h0M524.3 509.0h0M504.4 542.2h0M512.7 519.5h0M489.0 559.6h0M510.8 519.2h0M495.5 566.4h0M479.1 549.8h0M465.5 552.6h0M449.4 574.2h0M479.4 552.9h0M487.9 507.7h0M501.6 533.0h0M481.6 563.3h0M473.2 556.8h0M505.6 508.2h0M508.1 536.3h0M509.2 555.6h0M506.8 534.8h0M486.1 567.6h0M507.6 533.4h0M508.9 554.4h0M518.4 494.9h0M490.0 545.7h0M476.6 544.4h0M533.4 507.5h0M518.6 506.7h0M492.6 549.5h0M452.7 582.2h0M480.6 566.9h0M519.3 529.5h0M483.9 534.9h0M486.7 530.0h0M520.7 527.2h0M500.7 560.9h0M498.8 521.7h0M483.4 564.3h0M505.0 543.4h0M502.1 538.4h0M512.0 509.4h0M461.3 561.7h0M523.7 520.4h0M537.2 529.2h0M509.4 527.1h0M491.0 523.8h0M524.0 512.7h0M525.2 502.8h0M484.2 546.9h0M497.6 541.0h0M503.2 529.7h0M480.2 551.4h0M496.3 497.8h0M518.1 516.0h0M541.8 501.0h0M461.3 566.8h0M512.2 520.3h0M468.6 556.1h0M486.4 531.9h0M512.4 510.7h0M477.5 548.9h0M506.3 562.3h0M489.6 529.5h0M513.7 518.4h0M470.5 535.4h0M565.7 542.5h0M479.2 538.7h0M485.3 584.5h0M473.4 555.8h0M526.1 518.2h0M507.6 513.6h0M500.6 568.5h0M529.9 497.3h0M474.6 583.3h0M480.3 559.0h0M505.0 541.5h0M482.4 540.2h0M492.6 548.5h0M495.1 537.2h0M493.2 552.7h0M504.7 539.3h0M475.9 568.4h0M520.9 510.9h0M499.4 546.3h0M484.2 564.9h0M487.9 534.0h0M504.7 524.2h0M496.6 511.4h0M509.7 528.1h0M528.9 497.8h0M498.9 546.3h0M466.0 546.8h0M505.6 505.6h0M501.9 509.2h0M501.9 562.7h0M495.3 558.5h0M465.4 596.7h0M493.4 522.9h0M502.6 512.2h0M495.5 544.7h0M531.4 523.4h0M534.3 516.8h0M458.8 584.7h0M539.7 512.0h0M474.4 569.5h0M489.5 531.4h0M556.8 453.6h0M552.5 495.1h0M518.7 505.7h0M477.3 527.9h0M501.4 509.9h0M509.9 530.0h0M468.6 547.0h0M507.3 506.3h0M471.4 539.6h0M528.4 487.5h0M498.0 547.2h0M481.7 549.6h0M528.3 496.2h0M516.9 523.6h0M529.9 475.3h0M470.6 517.4h0M486.3 560.0h0M497.0 547.3h0M465.1 564.9h0M501.3 528.0h0M500.4 515.4h0M494.4 507.9h0M495.9 557.7h0M467.6 562.9h0M518.8 497.0h0M527.8 520.5h0M471.4 549.4h0M474.5 579.1h0M499.0 529.4h0M474.5 557.8h0M480.5 543.3h0M490.7 560.5h0M470.3 572.6h0M464.0 573.8h0M518.4 542.3h0M476.9 585.8h0M516.4 540.1h0M481.7 540.9h0M512.6 528.2h0M488.4 540.4h0M467.0 563.6h0M508.5 498.8h0M495.2 546.3h0M483.5 550.8h0M543.5 484.7h0M534.9 504.0h0M474.4 551.5h0M496.0 529.5h0M490.0 559.2h0M480.6 570.8h0M508.6 538.2h0M514.8 507.1h0M520.9 474.8h0M473.9 574.4h0M509.9 520.3h0M524.5 549.3h0M455.7 574.3h0M490.9 536.7h0M481.5 548.5h0M513.1 545.3h0M467.8 568.0h0M496.7 510.5h0M493.9 537.5h0M481.9 561.0h0M496.9 532.7h0M465.2 577.3h0M473.9 564.0h0M478.2 558.0h0M514.3 523.8h0M526.9 518.3h0M493.3 531.2h0M489.3 567.2h0M464.6 583.6h0M468.3 546.1h0M501.3 541.4h0M520.6 520.5h0M489.3 552.0h0M483.1 557.3h0M485.6 565.8h0M510.7 524.7h0M524.2 515.6h0M497.7 552.4h0M490.5 542.1h0M503.2 514.3h0M486.2 578.6h0M497.0 521.7h0M521.8 527.0h0M508.1 534.9h0M466.2 558.7h0M539.4 489.0h0M558.2 483.8h0M468.0 552.4h0M489.0 566.3h0M511.4 546.9h0M524.6 532.0h0M460.3 574.2h0M533.2 524.3h0M524.1 533.5h0M512.8 512.3h0M496.9 540.6h0M459.1 591.2h0M502.1 512.4h0M482.2 529.1h0M506.5 510.2h0M489.7 582.2h0M473.1 578.7h0M541.9 519.0h0M552.7 488.4h0M467.3 553.2h0M504.2 523.3h0M476.4 565.9h0M514.5 505.2h0M479.7 517.2h0M508.7 525.9h0M480.4 521.6h0M512.5 522.6h0M460.8 610.7h0M508.3 538.8h0M503.5 538.1h0M507.7 519.1h0M502.5 518.9h0M527.7 521.6h0M525.5 530.9h0M485.8 562.0h0M499.4 538.1h0M481.8 555.4h0M488.1 543.5h0M535.6 488.6h0M478.0 572.1h0M517.0 489.1h0M532.6 514.1h0M513.9 502.0h0M522.3 515.8h0M477.0 544.3h0M490.5 554.8h0M481.5 535.6h0M528.8 511.7h0M496.7 561.5h0M482.7 554.4h0M497.5 551.9h0M522.6 505.7h0M471.8 568.0h0M515.5 508.1h0M501.8 521.2h0M495.2 529.1h0M506.5 538.8h0M484.6 529.0h0M477.7 555.2h0M468.7 563.9h0M506.1 512.2h0M468.0 569.2h0M486.4 525.8h0M481.8 536.1h0M517.9 509.2h0M443.7 583.2h0M490.7 552.1h0M498.5 528.8h0M503.2 551.4h0M497.5 532.0h0M517.0 535.8h0M494.0 508.5h0M489.1 542.1h0M503.2 515.0h0M505.3 547.2h0M503.8 531.7h0M506.8 539.9h0M522.1 519.4h0M527.9 531.0h0M476.2 538.9h0M481.9 563.8h0M542.1 492.0h0M490.7 533.4h0M455.0 549.2h0M495.5 528.2h0M506.9 556.9h0M522.9 528.8h0M507.0 549.4h0M511.0 546.9h0M503.7 549.4h0M521.6 504.8h0M466.1 552.0h0M500.0 529.7h0M505.2 548.7h0M503.1 541.0h0M523.2 505.2h0M473.2 552.6h0M525.1 533.1h0M516.0 519.3h0M475.2 554.4h0M495.3 512.7h0M497.4 541.6h0M453.8 617.4h0M499.0 529.7h0M486.5 527.2h0M486.4 572.7h0M458.6 554.1h0M504.9 510.9h0M526.9 508.5h0M526.3 521.7h0M524.0 513.4h0M507.5 533.2h0M517.8 514.7h0M470.2 538.4h0M488.1 540.5h0M495.0 546.4h0M499.6 522.3h0M487.7 549.4h0M496.4 563.3h0M516.5 515.6h0M471.7 526.0h0M510.7 531.7h0M497.3 532.7h0M507.1 551.8h0M502.7 533.7h0M505.2 535.3h0M491.9 537.0h0M519.2 517.7h0M520.7 519.8h0M512.8 509.8h0M482.3 559.6h0M491.1 569.1h0M503.4 512.8h0M539.0 491.6h0M514.1 537.7h0M509.7 546.2h0M522.8 534.2h0M472.3 519.6h0M511.2 512.6h0M438.5 580.6h0M488.2 531.8h0M501.8 522.7h0M468.1 519.8h0M450.0 565.3h0M469.1 551.1h0M507.0 532.5h0M505.9 513.3h0M505.2 523.0h0M494.4 535.1h0M519.2 562.9h0M509.2 529.5h0M486.2 560.4h0M497.1 516.8h0M538.3 535.5h0M487.4 554.7h0M473.7 574.6h0M470.1 558.6h0M457.1 566.9h0M470.6 551.4h0M540.7 515.3h0M511.1 530.2h0M508.7 547.6h0M514.5 518.8h0M484.3 558.2h0M484.3 515.0h0M500.1 498.4h0M527.5 537.1h0M488.4 545.0h0M452.8 606.6h0M468.1 592.3h0M528.3 507.8h0M496.2 529.4h0M456.2 578.2h0M504.3 516.4h0M513.5 522.2h0M481.7 558.7h0M484.7 518.3h0M464.9 547.7h0M464.0 563.5h0M489.5 529.5h0M512.6 508.8h0M510.3 528.0h0M496.1 519.3h0M468.7 586.7h0M500.3 554.3h0M518.7 515.7h0M520.1 539.1h0M486.4 519.3h0M479.1 552.4h0M517.8 502.7h0M500.6 532.1h0M527.8 518.7h0M517.0 523.7h0M521.5 501.5h0M499.2 539.5h0M458.5 621.4h0M507.5 504.4h0M493.3 545.6h0M511.5 529.1h0M494.9 541.7h0M511.5 541.0h0M486.1 590.0h0M500.5 543.4h0M519.3 529.3h0M528.1 508.1h0M473.1 554.4h0M505.0 537.6h0M504.2 544.1h0M503.1 504.1h0M498.7 528.3h0M504.9 531.1h0M490.1 566.5h0M509.4 536.8h0M528.6 510.4h0M465.5 581.7h0M528.2 524.3h0M472.2 575.1h0M491.0 546.6h0M480.2 546.0h0M512.4 527.5h0M493.8 544.7h0M510.4 520.2h0M458.7 555.5h0M498.1 584.8h0M516.2 538.6h0M498.5 541.3h0M465.1 555.9h0M500.3 572.5h0M532.0 515.6h0M518.5 498.9h0M524.1 515.8h0M480.5 549.2h0M498.4 521.1h0M487.0 534.9h0M495.2 551.0h0M479.1 549.4h0M484.5 560.6h0M526.1 504.9h0M473.8 545.1h0M512.9 507.9h0M495.5 532.2h0M486.8 589.3h0M513.6 525.2h0M502.5 546.7h0M526.3 500.7h0M541.6 481.6h0M512.6 519.2h0M491.4 550.2h0M478.9 540.3h0M464.9 550.3h0M500.3 515.3h0M486.2 528.8h0M543.6 502.3h0M487.4 541.9h0M485.7 546.0h0M479.1 531.9h0M496.6 562.1h0M487.0 571.2h0M462.3 547.8h0M521.6 498.4h0M508.5 516.1h0M533.0 509.3h0M513.0 507.6h0M499.2 536.4h0M518.6 529.8h0M497.8 519.2h0M536.5 534.3h0M499.1 529.8h0M504.5 535.0h0M439.9 582.0h0M490.5 512.6h0M506.0 552.7h0M501.7 527.8h0M497.4 516.8h0M523.0 500.8h0M523.6 508.2h0M473.0 571.9h0M500.5 511.5h0M508.9 534.0h0M542.4 466.4h0M505.3 530.2h0M489.8 526.2h0M497.0 522.0h0M524.3 522.6h0M448.9 578.3h0M519.2 499.4h0M523.1 522.1h0M495.3 524.7h0M522.5 519.9h0M483.8 537.3h0M476.4 551.2h0M465.7 558.9h0M495.1 516.8h0M507.2 542.9h0M501.9 548.9h0M470.5 589.9h0M499.7 484.0h0M510.4 533.0h0M507.8 509.0h0M528.4 516.2h0M477.0 561.8h0M506.2 542.6h0M495.3 503.8h0M500.5 547.5h0M487.0 562.0h0M499.5 528.2h0M470.4 549.2h0M486.2 539.8h0M518.4 536.0h0M486.6 544.2h0M492.1 527.0h0M506.2 541.2h0M509.7 499.7h0M523.9 523.2h0M482.3 541.4h0M493.7 536.4h0M472.3 562.8h0M507.9 510.6h0M500.1 557.7h0M502.5 533.6h0M476.6 574.1h0M512.6 516.7h0M474.2 586.3h0M472.8 546.2h0M487.5 555.3h0M480.1 535.7h0M516.5 531.1h0M500.8 507.4h0M482.9 552.5h0M518.9 524.4h0M511.8 534.5h0M493.1 547.4h0M481.9 573.9h0M476.4 551.7h0M503.5 560.9h0M497.2 539.0h0M504.0 540.1h0M505.4 536.4h0M503.8 545.8h0M484.0 553.4h0M504.9 533.0h0M497.1 534.5h0M452.9 550.1h0M480.7 560.2h0M520.9 505.3h0M505.5 515.8h0M488.8 530.7h0M487.1 549.0h0M505.7 496.7h0M489.9 567.3h0M466.3 572.5h0M470.3 554.4h0M545.9 507.6h0M491.8 539.2h0M498.6 525.3h0M501.6 534.3h0M504.9 535.9h0M512.2 516.6h0M499.7 541.0h0M489.9 552.7h0M493.7 568.9h0M496.6 527.0h0M531.7 480.2h0M533.1 524.0h0M513.1 534.3h0M533.4 485.4h0M487.7 565.8h0M482.0 566.4h0M452.2 566.6h0M515.4 521.5h0M506.9 518.6h0M472.9 581.2h0M509.2 514.7h0M491.9 552.9h0M502.8 513.7h0M518.7 505.8h0M511.0 534.5h0M497.0 518.9h0M489.6 547.1h0M518.4 536.2h0M475.3 562.5h0M504.9 553.5h0M517.0 524.6h0M526.5 529.0h0M467.2 542.9h0M508.9 544.7h0M493.2 519.8h0M493.8 527.7h0M516.7 548.2h0M503.0 534.6h0M444.6 585.4h0M512.7 534.3h0M462.9 571.0h0M509.4 493.4h0M486.5 548.8h0M483.5 568.6h0M498.4 551.3h0M509.2 535.8h0M478.7 515.1h0M523.3 523.7h0M486.5 522.2h0M506.5 553.7h0M534.2 514.3h0M490.4 549.5h0M503.7 539.2h0M512.2 520.2h0M526.0 502.5h0M518.5 522.3h0M502.8 568.6h0M499.8 532.1h0M502.8 533.3h0M489.1 533.1h0M462.2 581.6h0M505.2 509.5h0M499.5 527.2h0M552.4 511.7h0M489.2 530.5h0M474.0 573.2h0M485.8 558.6h0M487.5 550.2h0M508.9 522.9h0M488.7 506.0h0M509.7 530.7h0M486.7 537.3h0M487.9 537.4h0M503.3 539.2h0M500.4 560.0h0M470.0 559.4h0M507.6 562.5h0M493.9 533.8h0M537.4 527.9h0M494.3 534.7h0M504.8 513.6h0M479.0 564.6h0M509.2 517.3h0M487.1 526.3h0M501.9 551.3h0M515.8 556.8h0M471.0 569.5h0M455.9 567.1h0M492.8 558.1h0M500.4 534.8h0M509.1 523.6h0M523.9 503.1h0M489.3 524.4h0M486.6 535.8h0M477.7 567.4h0M507.2 533.8h0M520.7 544.5h0M496.7 526.5h0M516.6 486.6h0M487.4 567.8h0M488.7 535.5h0M524.9 502.0h0M523.4 465.3h0M500.3 500.4h0M477.5 559.9h0M505.6 503.1h0M474.1 543.3h0M508.7 556.6h0M490.0 540.4h0M479.0 556.3h0M496.1 510.0h0M548.1 498.3h0M508.5 519.4h0M509.2 502.2h0M459.4 541.2h0M511.3 545.9h0M466.1 563.1h0M486.0 540.0h0M502.7 523.4h0M541.6 503.9h0M483.3 532.2h0M508.6 539.4h0M492.4 547.9h0M459.5 543.8h0M510.7 530.1h0M547.1 518.4h0M514.0 499.1h0M481.9 571.1h0M496.1 549.3h0M508.9 522.8h0M477.7 539.6h0M501.8 520.0h0M485.6 529.8h0M498.2 522.7h0M489.5 533.1h0M499.4 533.7h0M505.8 534.4h0M483.6 557.1h0M529.8 471.3h0M476.8 538.6h0M508.6 522.4h0M562.4 450.1h0M528.4 501.4h0M495.2 528.0h0M509.0 522.5h0M469.6 543.2h0M506.7 525.3h0M478.9 573.1h0M522.7 510.8h0M505.9 518.7h0M477.5 551.3h0M514.6 525.8h0M487.1 541.0h0M503.4 531.9h0M482.2 567.4h0M486.8 546.0h0M516.8 532.4h0M537.7 523.6h0M554.0 477.8h0M520.8 512.2h0M502.7 517.4h0M516.6 524.9h0M496.8 529.1h0M497.3 534.2h0M494.4 529.2h0M518.0 532.4h0M505.4 514.2h0M471.1 569.8h0M505.1 563.2h0M524.7 514.7h0M510.1 550.6h0M479.0 525.6h0M499.6 555.2h0M499.0 533.8h0M517.4 547.3h0M511.0 518.7h0M493.4 516.0h0M528.6 519.2h0M461.5 546.5h0M460.9 569.5h0M514.1 541.2h0M459.7 572.5h0M529.8 522.8h0M504.4 520.6h0M501.6 523.9h0M524.0 486.2h0M539.8 514.4h0M500.6 535.9h0M508.0 537.5h0M479.5 564.7h0M473.4 562.0h0M472.8 547.8h0M526.3 501.5h0M490.9 524.4h0M530.8 514.0h0M475.7 557.1h0M480.9 557.4h0M502.2 589.6h0M519.5 517.8h0M480.3 550.1h0M488.4 553.0h0M483.8 545.0h0M535.9 486.4h0M506.7 549.5h0M513.3 513.0h0M483.9 558.6h0M493.0 544.4h0M482.5 552.3h0M544.8 501.4h0M492.8 500.4h0M455.7 573.3h0M472.7 561.4h0M451.0 593.4h0M470.2 532.2h0M460.2 559.8h0M520.7 516.7h0M491.4 555.6h0M471.8 563.6h0M539.1 474.4h0M487.8 559.0h0M533.3 523.1h0M492.4 517.5h0M498.6 552.2h0M510.5 514.0h0M530.9 476.4h0M498.0 556.6h0M531.0 525.1h0M480.8 529.1h0M543.8 475.7h0M506.3 495.4h0M501.2 528.9h0M494.6 535.6h0M504.1 550.0h0M510.9 529.5h0M503.2 532.2h0M469.7 554.5h0M538.7 516.5h0M485.5 550.3h0M480.4 533.9h0M477.9 526.1h0M513.1 513.2h0M482.1 535.3h0M492.6 514.8h0M530.7 541.5h0M516.7 488.3h0M498.2 536.1h0M477.4 580.8h0M496.8 531.5h0M508.7 514.8h0M477.9 562.2h0M483.2 527.9h0M510.6 510.3h0M492.3 501.7h0M528.1 511.3h0M470.8 558.3h0M487.2 552.8h0M481.7 566.9h0M504.6 523.9h0M484.2 511.1h0M518.0 529.5h0M536.9 517.2h0M497.7 533.7h0M507.5 539.5h0M487.2 536.4h0M521.6 520.3h0M481.4 558.2h0M495.8 546.5h0M507.9 526.7h0M478.0 528.5h0M513.1 555.9h0M494.5 507.2h0M505.4 523.5h0M491.1 517.5h0M473.2 541.5h0M512.4 513.9h0M502.4 546.4h0M501.9 547.0h0M491.0 528.4h0M509.7 516.8h0M489.9 508.1h0M502.2 586.5h0M531.8 518.1h0M491.1 585.5h0M507.7 494.7h0M490.1 554.5h0M505.0 555.0h0M494.2 528.4h0M514.6 509.9h0M486.3 567.3h0M491.2 553.9h0M531.7 511.7h0M502.4 507.0h0M535.0 518.4h0M495.0 539.8h0M476.5 537.7h0M497.6 534.7h0M511.8 535.2h0M494.4 537.8h0M470.1 537.5h0M463.9 564.9h0M534.8 488.7h0M481.9 566.4h0M508.3 532.9h0M517.9 530.6h0M516.5 503.7h0M433.4 609.0h0M445.7 625.1h0M470.5 551.9h0M509.9 507.8h0M487.4 509.5h0M471.2 586.2h0M509.9 548.0h0M513.2 502.1h0M498.5 525.2h0M469.6 567.9h0M504.3 526.4h0M479.3 533.1h0M494.4 529.2h0M503.0 562.3h0M501.8 533.6h0M493.0 537.3h0M495.9 519.2h0M511.1 504.6h0M500.2 532.2h0M446.3 570.2h0M481.5 556.3h0M497.8 551.1h0M519.1 514.8h0M487.2 569.3h0M485.3 581.7h0M507.0 551.9h0M475.6 545.1h0M510.9 524.2h0M484.8 549.1h0M501.7 507.4h0M504.8 524.5h0M506.1 535.1h0M520.7 497.1h0M493.4 540.4h0M482.3 576.9h0M498.4 546.7h0M541.9 509.2h0M520.3 513.3h0M478.2 555.0h0M472.7 549.0h0M494.4 539.4h0M468.6 565.6h0M471.5 564.2h0M521.2 520.2h0M520.0 525.0h0M517.9 544.3h0M532.1 521.9h0M456.8 561.8h0M501.6 552.5h0M485.3 524.5h0M519.7 512.2h0M478.0 556.2h0M507.4 555.2h0M516.2 524.5h0M518.9 524.7h0M551.2 478.2h0M529.7 490.2h0M501.2 516.6h0M467.0 550.1h0M507.4 513.3h0M529.7 480.2h0M523.1 503.5h0M457.4 559.6h0M479.3 561.2h0M511.9 522.9h0M510.3 516.2h0M500.9 562.1h0M501.5 500.8h0M482.5 551.5h0M509.5 515.3h0M535.3 542.2h0M500.6 532.0h0M464.1 583.5h0M484.7 549.1h0M509.6 545.8h0M510.3 544.3h0M483.2 577.2h0M481.1 529.3h0M502.5 545.1h0M504.6 549.7h0M502.2 558.9h0M498.6 538.6h0M498.3 509.7h0M484.3 549.5h0M459.5 583.8h0M473.1 559.6h0M485.9 565.7h0M514.6 526.8h0M480.3 564.2h0M541.1 476.8h0M495.6 501.9h0M482.4 555.9h0M514.3 538.7h0M523.8 511.3h0M529.7 508.1h0M516.7 504.2h0M510.5 535.1h0M491.8 544.5h0M502.8 532.3h0M505.4 532.9h0M484.5 540.9h0M508.1 519.7h0M461.1 559.7h0M484.9 577.4h0M489.5 534.3h0M500.0 531.3h0M508.2 559.8h0M511.4 523.4h0M505.0 542.0h0M468.9 562.7h0M543.7 517.7h0M488.6 531.0h0M524.2 503.3h0M504.2 514.3h0M501.9 524.6h0M493.6 531.2h0M497.5 527.1h0M465.6 542.5h0M491.2 541.3h0M544.1 483.1h0M512.8 543.6h0M486.6 532.5h0M490.2 545.5h0M482.6 505.6h0M494.9 530.1h0M525.6 527.6h0M508.9 519.6h0M487.5 552.1h0M453.7 553.8h0M533.1 505.9h0M521.8 518.3h0M497.8 536.2h0M506.2 548.0h0M490.4 540.6h0M484.8 551.0h0M549.4 491.9h0M420.8 571.1h0M488.8 575.6h0M507.4 529.7h0M509.7 501.2h0M499.6 537.6h0M493.5 546.0h0M509.4 521.0h0M476.1 534.2h0M476.0 553.1h0M511.1 505.7h0M482.8 565.7h0M513.3 500.6h0M522.1 521.0h0M528.1 500.3h0M522.8 497.8h0M477.5 564.0h0M500.1 501.2h0M498.5 531.6h0M520.7 523.9h0M492.8 512.4h0M526.7 499.3h0M502.2 494.9h0M501.3 539.5h0M485.6 539.4h0M494.9 534.7h0M498.1 536.4h0M492.1 541.1h0M501.4 537.5h0M484.9 532.2h0M488.9 540.4h0M509.5 531.9h0M498.1 533.9h0M498.7 536.6h0M483.8 537.1h0M492.8 540.5h0M500.8 539.6h0M488.9 536.3h0M491.0 538.0h0M503.6 533.9h0M489.1 544.6h0M497.3 539.5h0M494.6 535.3h0M488.1 540.0h0M497.3 531.4h0M499.0 537.2h0M483.0 550.1h0M504.3 531.8h0M490.6 536.9h0M491.5 535.9h0M498.3 534.2h0M502.1 540.6h0M504.1 529.8h0M486.5 551.7h0M496.8 530.9h0M503.3 532.3h0M492.6 533.0h0M492.3 544.9h0M496.7 535.1h0M503.9 540.3h0M503.0 528.1h0M499.8 534.0h0M496.2 541.7h0M489.6 529.7h0M491.8 539.1h0M485.1 545.8h0M506.3 539.3h0M500.2 526.4h0M496.9 535.7h0M495.5 537.1h0M499.7 532.5h0M483.7 542.1h0M506.8 526.2h0M501.9 538.6h0M491.7 536.5h0M496.1 531.8h0M511.9 534.4h0M502.8 531.8h0M507.6 524.4h0M498.0 540.9h0M491.3 533.0h0M494.6 534.1h0M504.5 531.2h0M498.9 532.6h0M493.3 535.3h0M478.4 538.5h0M502.7 528.6h0M504.1 537.6h0M497.0 536.4h0M497.6 542.3h0M496.5 532.8h0M488.4 536.4h0M499.3 536.4h0M488.6 539.1h0M496.7 531.3h0M498.7 531.5h0M497.2 533.7h0M489.5 533.7h0M490.6 545.4h0M499.6 536.5h0M487.8 531.8h0M490.2 540.4h0M500.6 542.0h0M493.4 537.2h0M500.1 534.9h0M496.6 533.8h0M498.2 539.3h0M494.8 534.1h0M489.4 542.9h0M486.9 536.8h0M501.7 531.2h0M500.3 543.6h0M491.6 542.5h0M509.4 527.0h0M499.2 533.1h0M497.9 536.3h0M501.3 535.8h0M491.6 537.0h0M492.6 530.4h0M493.0 533.3h0M496.3 530.8h0M503.6 523.6h0M501.9 537.1h0M491.1 543.4h0M504.4 533.1h0M517.4 523.4h0M491.6 543.7h0M507.8 531.9h0M488.2 539.3h0M493.7 533.9h0M498.2 539.9h0M481.1 528.6h0M495.6 533.1h0M499.9 529.9h0M505.3 531.9h0M500.0 531.4h0M500.4 524.3h0M481.9 544.8h0M496.8 536.4h0M495.3 542.7h0M514.0 531.2h0M506.3 534.5h0M491.8 537.2h0M506.1 530.0h0M489.3 539.5h0M501.2 537.6h0M490.2 543.1h0M506.6 531.0h0M501.0 535.1h0M506.5 536.5h0M502.7 530.5h0M496.9 531.7h0M492.4 536.2h0M495.5 537.5h0M497.8 535.7h0M500.8 536.6h0M501.1 529.7h0M497.2 539.6h0M502.1 527.3h0M491.1 536.9h0M498.7 546.1h0M487.0 529.6h0M499.3 537.7h0M495.9 534.3h0M507.5 533.3h0M493.6 541.3h0M493.2 532.8h0M485.6 537.5h0M502.4 531.0h0M487.5 538.7h0M506.9 530.9h0M487.8 542.3h0M491.5 540.7h0M482.2 544.7h0M497.1 534.0h0M500.8 533.4h0M509.2 527.6h0M502.5 536.4h0M497.7 531.0h0M492.7 535.4h0M495.5 545.5h0M513.0 528.5h0M510.7 519.7h0M503.0 533.0h0M488.5 540.6h0M499.2 537.2h0M502.7 531.2h0M489.7 538.1h0M501.0 532.3h0M501.5 532.1h0M497.2 540.2h0M492.4 539.2h0M506.7 528.5h0M493.5 541.3h0M501.4 532.6h0M503.7 529.0h0M492.6 539.2h0M501.4 530.4h0M506.9 535.8h0M502.1 538.5h0M495.5 542.4h0M499.5 531.1h0M496.0 537.6h0M493.2 534.8h0M497.4 540.8h0M495.7 532.3h0M493.1 539.2h0M491.7 536.2h0M487.5 539.7h0M500.2 535.0h0M493.1 540.7h0M504.4 532.0h0M497.0 540.0h0M498.5 524.1h0M495.1 528.6h0M505.0 519.9h0M487.1 543.4h0M497.0 535.8h0M500.1 539.3h0M490.8 535.5h0M494.2 534.5h0M495.0 531.7h0M514.4 524.8h0M507.4 538.5h0M502.8 533.3h0M513.6 517.1h0M511.8 530.1h0M503.3 529.4h0M498.3 536.2h0M487.7 535.3h0M489.3 537.0h0M494.8 535.7h0M494.9 532.8h0M501.6 535.1h0M490.3 536.3h0M503.9 531.8h0M492.1 534.5h0M497.2 535.4h0M489.0 548.3h0M498.4 535.9h0M484.0 544.1h0M496.6 540.0h0M502.6 530.0h0M484.5 549.8h0M495.1 535.7h0M490.0 536.3h0M494.1 534.1h0M492.0 533.4h0M501.8 533.2h0M510.4 533.1h0M500.3 528.3h0M496.1 535.0h0M471.7 545.0h0M489.9 538.6h0M498.8 534.3h0M491.6 533.0h0M502.0 531.5h0M499.6 534.6h0M497.6 529.7h0M497.0 532.1h0M501.0 532.3h0M502.2 532.7h0M492.5 533.0h0M499.3 539.9h0M486.0 543.0h0M501.2 527.7h0M506.1 531.8h0M502.8 533.9h0M497.9 528.3h0M500.0 529.0h0M501.8 531.9h0M496.0 532.1h0M514.7 525.9h0M499.3 534.2h0M499.0 529.9h0M493.6 532.2h0M502.7 532.5h0M496.9 534.5h0M503.3 538.2h0M501.1 536.1h0M487.6 543.9h0M497.9 530.0h0M503.3 526.7h0M504.1 536.9h0M498.5 532.4h0M486.1 534.0h0M491.1 535.1h0M511.3 534.4h0M502.1 535.3h0M505.6 529.2h0M479.1 539.0h0M497.7 532.6h0M500.6 531.5h0M497.9 534.3h0M503.2 528.9h0M505.8 533.5h0M502.4 530.6h0M490.2 539.8h0M486.0 537.8h0M495.9 546.3h0M485.6 538.3h0M497.1 538.3h0M508.8 527.2h0M491.7 545.4h0M503.5 531.0h0M501.5 537.3h0M494.2 536.9h0M497.1 538.1h0M489.9 547.6h0M497.1 528.5h0M502.0 532.0h0M492.3 539.7h0M496.9 532.3h0M495.0 543.7h0M503.8 533.9h0M507.2 526.5h0M492.9 540.0h0M489.7 538.1h0M500.2 528.5h0M495.9 536.6h0M499.1 534.3h0M504.0 533.3h0M498.4 533.2h0M501.6 531.5h0M486.9 541.9h0M495.1 528.7h0M495.5 537.3h0M499.1 538.0h0M498.1 536.4h0M495.8 532.0h0M486.9 539.3h0M499.7 531.9h0M501.7 545.0h0M495.1 535.2h0M498.4 534.5h0M493.8 543.2h0M490.9 541.5h0M493.2 532.7h0M487.9 533.2h0M493.0 541.9h0M483.2 549.1h0M498.2 535.2h0M505.9 530.9h0M501.5 536.4h0M496.1 540.6h0M493.9 547.2h0M486.2 539.4h0M495.4 538.4h0M505.8 540.7h0M500.8 537.5h0M484.9 540.6h0M485.5 543.2h0M498.5 527.4h0M486.7 540.7h0M485.4 541.5h0M504.0 527.1h0M484.5 538.5h0M496.0 531.8h0M500.1 534.1h0M504.3 536.2h0M486.9 535.9h0M496.4 543.4h0M505.8 532.3h0M483.6 545.4h0M490.0 539.4h0M495.4 536.4h0M494.5 533.8h0M493.7 546.9h0M502.8 531.2h0M495.9 529.5h0M493.9 528.9h0M487.0 541.3h0M500.7 527.2h0M502.4 536.4h0M491.8 537.3h0M507.8 528.4h0M494.8 540.8h0M498.0 535.8h0M496.3 541.0h0M498.4 530.4h0M497.0 534.9h0M515.3 515.4h0M497.3 536.2h0M499.4 534.0h0M511.5 519.9h0M515.5 525.1h0M490.8 534.6h0M502.7 538.9h0M497.8 531.6h0M498.6 539.8h0M496.0 534.4h0M496.2 541.2h0M499.2 529.4h0M495.5 534.0h0M501.9 541.2h0M508.4 535.2h0M494.0 535.7h0M492.5 541.9h0M496.6 536.0h0M519.0 527.7h0M500.4 539.6h0M479.7 543.3h0M491.6 534.9h0M670.2 386.6h0M655.8 406.1h0M608.4 437.9h0M551.0 414.7h0M561.7 429.7h0M580.2 433.8h0M558.0 450.1h0M535.8 439.9h0M528.4 441.9h0M415.4 515.2h0M417.2 635.4h0M435.8 641.5h0M406.1 596.7h0M446.9 619.1h0M445.0 645.5h0M450.6 621.1h0M424.7 604.8h0M480.2 598.7h0M562.8 535.6h0M561.7 503.0h0" stroke="#000" stroke-width="1.45" stroke-linecap="round" fill="none" opacity="1.0"/>
<path d="M64.84 262.53L348.75 101.00" stroke="#1B9E77" stroke-width="1.85" fill="none"/>
<path d="M385.83 263.91L669.44 100.66" stroke="#D95F02" stroke-width="1.85" fill="none"/>
<path d="M63.89 643.51L321.68 413.80" stroke="#000" stroke-width="1.7" fill="none"/>
<path d="M410.6 608.6L419.5 601.1L428.5 593.7L437.4 586.2L446.4 578.7L455.3 571.2L464.3 563.7L473.2 556.1L482.2 548.6L491.2 540.9L500.1 533.2L509.1 525.3L518.0 517.3L527.0 509.3L535.9 501.2L544.9 493.1L553.8 485.0L562.8 476.9L571.7 468.7L580.7 460.6L589.6 452.4L598.6 444.3L607.6 436.2L616.5 428.0L625.5 419.9L634.4 411.7L643.4 403.6L652.3 395.4L661.3 387.3L670.2 379.1L670.2 392.4L661.3 399.8L652.3 407.3L643.4 414.8L634.4 422.2L625.5 429.7L616.5 437.2L607.6 444.6L598.6 452.1L589.6 459.6L580.7 467.1L571.7 474.5L562.8 482.0L553.8 489.5L544.9 497.0L535.9 504.5L527.0 512.0L518.0 519.6L509.1 527.2L500.1 535.0L491.2 542.8L482.2 550.8L473.2 558.9L464.3 566.9L455.3 575.1L446.4 583.2L437.4 591.3L428.5 599.4L419.5 607.6L410.6 615.7 Z" fill="#A8A8A8"/>
<path d="M410.57 612.15L670.23 385.75" stroke="#000" stroke-width="1.4" fill="none"/>
<text x="64.84" y="311.3" font-size="13.3" text-anchor="middle" fill="#4D4D4D">0</text>
<text x="135.12" y="311.3" font-size="13.3" text-anchor="middle" fill="#4D4D4D">25</text>
<text x="205.39" y="311.3" font-size="13.3" text-anchor="middle" fill="#4D4D4D">50</text>
<text x="275.66" y="311.3" font-size="13.3" text-anchor="middle" fill="#4D4D4D">75</text>
<text x="345.94" y="311.3" font-size="13.3" text-anchor="middle" fill="#4D4D4D">100</text>
<text x="385.83" y="311.3" font-size="13.3" text-anchor="middle" fill="#4D4D4D">0</text>
<text x="456.03" y="311.3" font-size="13.3" text-anchor="middle" fill="#4D4D4D">25</text>
<text x="526.23" y="311.3" font-size="13.3" text-anchor="middle" fill="#4D4D4D">50</text>
<text x="596.43" y="311.3" font-size="13.3" text-anchor="middle" fill="#4D4D4D">75</text>
<text x="666.63" y="311.3" font-size="13.3" text-anchor="middle" fill="#4D4D4D">100</text>
<text x="42.8" y="273.83" font-size="13.3" text-anchor="end" fill="#4D4D4D">0</text>
<text x="42.8" y="187.91" font-size="13.3" text-anchor="end" fill="#4D4D4D">50</text>
<text x="42.8" y="101.99" font-size="13.3" text-anchor="end" fill="#4D4D4D">100</text>
<text x="80.47" y="676.6" font-size="13.3" text-anchor="middle" fill="#4D4D4D">0</text>
<text x="138.84" y="676.6" font-size="13.3" text-anchor="middle" fill="#4D4D4D">25</text>
<text x="197.22" y="676.6" font-size="13.3" text-anchor="middle" fill="#4D4D4D">50</text>
<text x="255.59" y="676.6" font-size="13.3" text-anchor="middle" fill="#4D4D4D">75</text>
<text x="313.97" y="676.6" font-size="13.3" text-anchor="middle" fill="#4D4D4D">100</text>
<text x="42.8" y="636.55" font-size="13.3" text-anchor="end" fill="#4D4D4D">0</text>
<text x="42.8" y="551.47" font-size="13.3" text-anchor="end" fill="#4D4D4D">40</text>
<text x="42.8" y="466.39" font-size="13.3" text-anchor="end" fill="#4D4D4D">80</text>
<text x="42.8" y="381.31" font-size="13.3" text-anchor="end" fill="#4D4D4D">120</text>
<text x="406.13" y="676.6" font-size="13.3" text-anchor="middle" fill="#4D4D4D">-25</text>
<text x="498.73" y="676.6" font-size="13.3" text-anchor="middle" fill="#4D4D4D">0</text>
<text x="591.33" y="676.6" font-size="13.3" text-anchor="middle" fill="#4D4D4D">25</text>
<text x="389.3" y="622.84" font-size="13.3" text-anchor="end" fill="#4D4D4D">-20</text>
<text x="389.3" y="541.4" font-size="13.3" text-anchor="end" fill="#4D4D4D">0</text>
<text x="389.3" y="459.96" font-size="13.3" text-anchor="end" fill="#4D4D4D">20</text>
<text x="389.3" y="378.52" font-size="13.3" text-anchor="end" fill="#4D4D4D">40</text>
<text x="366.6" y="328.6" font-size="13.45" text-anchor="middle">Chronological age (years)</text>
<text x="13.2" y="162.3" font-size="13.45" text-anchor="middle" transform="rotate(-90 13.2 162.3)">Predicted age (years)</text>
<text x="192.3" y="694.7" font-size="13.45" text-anchor="middle">XAI-AGE Predicted age (years)</text>
<text x="13.2" y="512.2" font-size="13.45" text-anchor="middle" transform="rotate(-90 13.2 512.2)">Elastic net Predicted age (years)</text>
<text x="539.7" y="694.7" font-size="13.45" text-anchor="middle">XAI-AGE age acceleration (years)</text>
<text x="363.2" y="511.2" font-size="13.45" text-anchor="middle" transform="rotate(-90 363.2 511.2)">Elastic net age acceleration (years)</text>
<text x="206.5" y="23.9" font-size="18.4" text-anchor="middle">Elastic net</text>
<text x="526.7" y="23.9" font-size="18.4" text-anchor="middle" letter-spacing="0.45">XAI-AGE</text>
<text x="2" y="13.7" font-size="13.5" font-weight="bold">A</text>
<text x="367.6" y="10.7" font-size="13.5" font-weight="bold">B</text>
<text x="1.4" y="356.7" font-size="13.5" font-weight="bold">C</text>
<text x="370.4" y="359.2" font-size="13.5" font-weight="bold">D</text>
<text x="188.5" y="48.7" font-size="10.6" text-anchor="middle" fill="#1B9E77"><tspan font-style="italic">R</tspan> = 0.97</text>
<text x="189.5" y="75.7" font-size="10" text-anchor="middle" fill="#1B9E77" font-weight="bold">MAE =</text>
<text x="190.8" y="90.8" font-size="10" text-anchor="middle" fill="#1B9E77" font-weight="bold">3 years</text>
<text x="509.5" y="48.7" font-size="10.6" text-anchor="middle" fill="#D95F02"><tspan font-style="italic">R</tspan> = 0.97</text>
<text x="510.3" y="75.7" font-size="10" text-anchor="middle" fill="#D95F02" font-weight="bold">MAE =</text>
<text x="512" y="90.8" font-size="10" text-anchor="middle" fill="#D95F02" font-weight="bold">2.83 years</text>
<text x="63.3" y="390.8" font-size="10.6"><tspan font-style="italic">R</tspan> = 0.99</text>
<text x="410" y="385.8" font-size="10.6"><tspan font-style="italic">R</tspan> = 0.77</text>
</svg></body></html>
